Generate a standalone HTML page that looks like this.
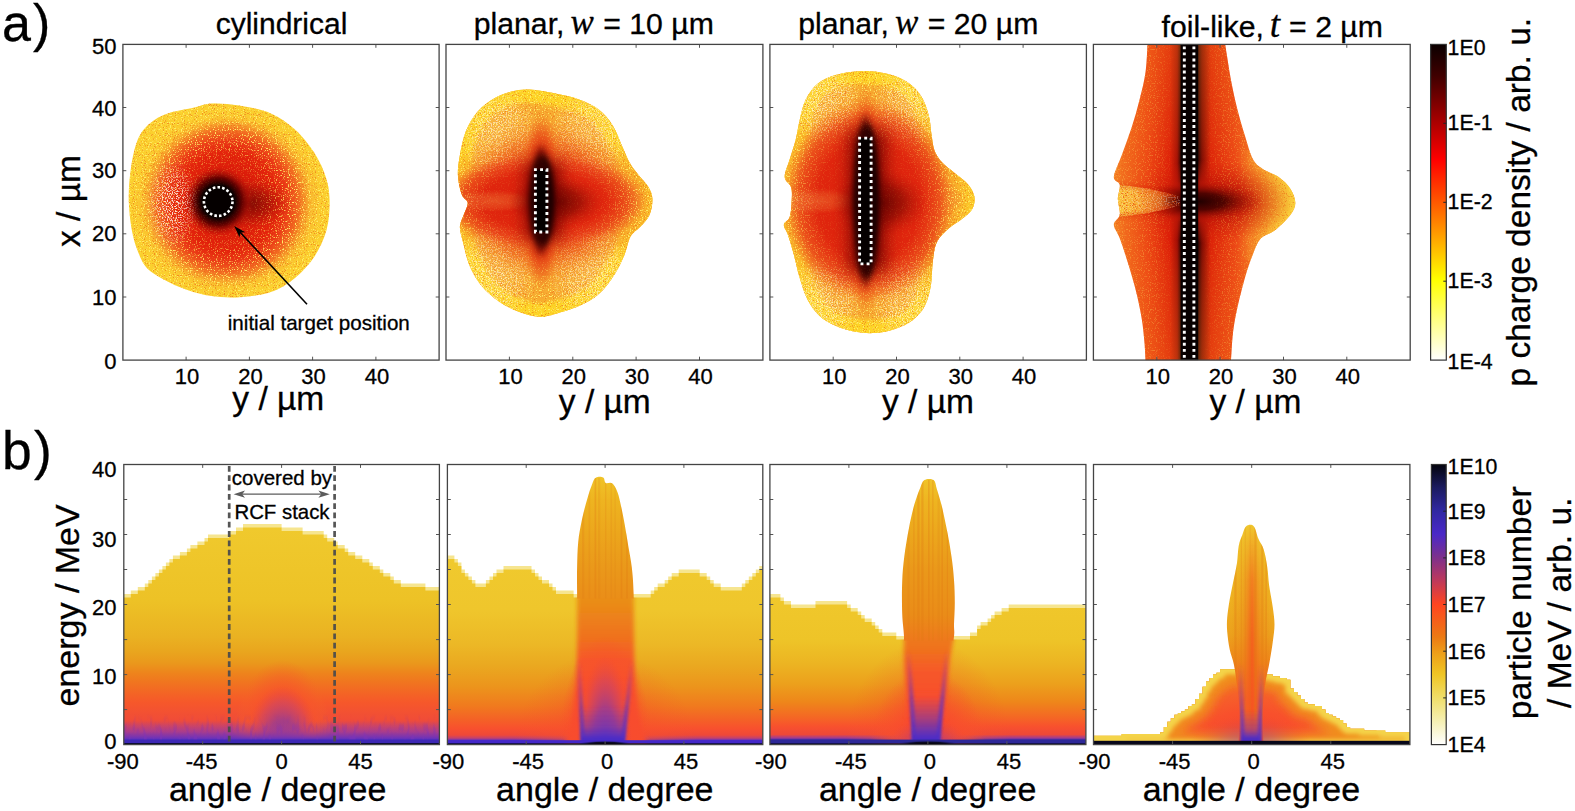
<!DOCTYPE html>
<html lang="en"><head><meta charset="utf-8">
<title>Proton charge density and energy spectra</title>
<style>html,body{margin:0;padding:0;background:#fff;overflow:hidden}svg{display:block}</style></head>
<body>
<svg width="1575" height="811" viewBox="0 0 1575 811">
<defs>
<filter id="nzL" x="0" y="0" width="100%" height="100%" color-interpolation-filters="sRGB"><feTurbulence type="fractalNoise" baseFrequency="0.85" numOctaves="1" seed="3" result="t"/><feColorMatrix in="t" type="matrix" values="0 0 0 0 1  0 0 0 0 0.93  0 0 0 0 0.40  8 0 0 0 -4.5"/></filter>
<filter id="nzW" x="0" y="0" width="100%" height="100%" color-interpolation-filters="sRGB"><feTurbulence type="fractalNoise" baseFrequency="0.8" numOctaves="1" seed="11" result="t"/><feColorMatrix in="t" type="matrix" values="0 0 0 0 1  0 0 0 0 1  0 0 0 0 0.96  0 9 0 0 -4.6"/></filter>
<filter id="nzD" x="0" y="0" width="100%" height="100%" color-interpolation-filters="sRGB"><feTurbulence type="fractalNoise" baseFrequency="0.9" numOctaves="1" seed="7" result="t"/><feColorMatrix in="t" type="matrix" values="0 0 0 0 0.92  0 0 0 0 0.36  0 0 0 0 0.08  0 0 8 0 -4.7"/></filter>
<filter id="bA5" x="-100%" y="-30%" width="300%" height="160%"><feGaussianBlur stdDeviation="3.4"/></filter>
<filter id="bA9" x="-150%" y="-40%" width="400%" height="180%"><feGaussianBlur stdDeviation="8"/></filter>
<filter id="bA2" x="-50%" y="-50%" width="200%" height="200%"><feGaussianBlur stdDeviation="2"/></filter>
<filter id="bA3" x="-150%" y="-20%" width="400%" height="140%"><feGaussianBlur stdDeviation="3"/></filter>
<clipPath id="cA1"><path d="M191.5 108.3C198.7 106.6 203.4 104 211.3 103.5C219.2 103.1 229.2 103.8 239.1 105.5C249 107.2 261.6 109.5 270.9 113.4C280.1 117.4 287.4 122.7 294.7 129.3C302 135.9 309.2 144.9 314.5 153.1C319.8 161.4 323.9 170.7 326.4 178.9C328.9 187.2 329.6 194.2 329.6 202.8C329.6 211.4 328.9 221.6 326.4 230.6C323.9 239.5 319.8 248.4 314.5 256.4C309.2 264.3 302 272.2 294.7 278.2C287.4 284.1 280.1 288.9 270.9 292.1C261.6 295.3 249 296.6 239.1 297.2C229.2 297.9 219.9 297.2 211.3 296.1C202.7 294.9 195.4 292.9 187.5 290.1C179.5 287.3 170.4 283 163.7 279.4C156.9 275.7 151.2 272.8 147 268.3C142.8 263.8 140.8 258.7 138.3 252.4C135.7 246.1 133.5 239.5 131.9 230.6C130.3 221.6 128.9 209.4 128.7 198.8C128.6 188.2 129.6 177 131.1 167C132.6 157.1 134.8 146.5 137.9 139.2C141 132 144.8 127.7 149.8 123.4C154.7 119.1 160.7 116 167.6 113.4C174.6 110.9 184.2 109.9 191.5 108.3Z"/></clipPath>
<radialGradient id="gA1a" gradientUnits="userSpaceOnUse" cx="0" cy="0" r="1" gradientTransform="translate(228.2 202.6) scale(100 96)"><stop offset="0" stop-color="#f48a28"/><stop offset="0.66" stop-color="#f48a28"/><stop offset="0.82" stop-color="#f8b02e" stop-opacity="0.8"/><stop offset="1" stop-color="#fbd02e" stop-opacity="0"/></radialGradient>
<radialGradient id="gA1r" gradientUnits="userSpaceOnUse" cx="0" cy="0" r="1" gradientTransform="translate(227.2 201.6) scale(84 84)"><stop offset="0" stop-color="#d01808"/><stop offset="0.4" stop-color="#dc1c0a"/><stop offset="0.6" stop-color="#e4240c"/><stop offset="0.72" stop-color="#ea3616" stop-opacity="0.95"/><stop offset="0.85" stop-color="#f0561e" stop-opacity="0.7"/><stop offset="1" stop-color="#f48a28" stop-opacity="0"/></radialGradient>
<radialGradient id="gA1b" gradientUnits="userSpaceOnUse" cx="0" cy="0" r="1" gradientTransform="translate(218.2 201.6) scale(35 35)"><stop offset="0" stop-color="#000000"/><stop offset="0.47" stop-color="#0a0000"/><stop offset="0.68" stop-color="#600000" stop-opacity="0.96"/><stop offset="0.86" stop-color="#a80e06" stop-opacity="0.55"/><stop offset="1" stop-color="#c81808" stop-opacity="0"/></radialGradient>
<radialGradient id="gA1c" gradientUnits="userSpaceOnUse" cx="0" cy="0" r="1" gradientTransform="translate(246.2 203.6) scale(46 26)"><stop offset="0" stop-color="#640400" stop-opacity="0.85"/><stop offset="0.5" stop-color="#8c0a04" stop-opacity="0.55"/><stop offset="1" stop-color="#c01808" stop-opacity="0"/></radialGradient>
<mask id="mA1" maskUnits="userSpaceOnUse" x="122.9" y="44.4" width="316.2" height="315.7"><rect x="122.9" y="44.4" width="316.2" height="315.7" fill="#fff"/><circle cx="224.2" cy="201.6" r="70" fill="url(#mgA1)"/></mask>
<radialGradient id="mgA1" gradientUnits="userSpaceOnUse" cx="0" cy="0" r="1" gradientTransform="translate(224.2 201.6) scale(70 70)"><stop offset="0" stop-color="#000"/><stop offset="0.35" stop-color="#000" stop-opacity="0.95"/><stop offset="0.6" stop-color="#000" stop-opacity="0.6"/><stop offset="1" stop-color="#000" stop-opacity="0"/></radialGradient>
<mask id="mA1w" maskUnits="userSpaceOnUse" x="122.9" y="44.4" width="316.2" height="315.7"><ellipse cx="172" cy="204" rx="26" ry="46" fill="url(#mgA1w)"/></mask>
<radialGradient id="mgA1w" gradientUnits="userSpaceOnUse" cx="0" cy="0" r="1" gradientTransform="translate(172 204) scale(26 46)"><stop offset="0" stop-color="#fff" stop-opacity="0.95"/><stop offset="0.5" stop-color="#fff" stop-opacity="0.65"/><stop offset="1" stop-color="#fff" stop-opacity="0"/></radialGradient>
<clipPath id="cA2"><path d="M529.4 89.6C536.6 90 546.9 91.9 555.2 93.6C563.4 95.2 571.7 96.9 579 99.5C586.3 102.2 593.2 105.2 598.8 109.5C604.4 113.8 608.7 119.1 612.7 125.4C616.7 131.6 619.8 140.9 622.6 147.2C625.5 153.5 627.1 158.4 629.8 163.1C632.4 167.7 635.4 171 638.5 175C641.6 178.9 646.1 182.9 648.4 186.9C650.8 190.9 652.2 194.2 652.4 198.8C652.6 203.4 651.6 210 649.6 214.7C647.7 219.3 643.7 222.9 640.5 226.6C637.3 230.2 633.2 231.9 630.6 236.5C627.9 241.1 627.3 248.1 624.6 254.4C622 260.7 619 267.6 614.7 274.2C610.4 280.8 604.8 288.8 598.8 294.1C592.9 299.4 586.3 302.7 579 306C571.7 309.3 561.8 312.1 555.2 313.9C548.5 315.7 545.2 317 539.3 316.7C533.3 316.4 526 314.4 519.4 311.9C512.8 309.5 505.9 306.3 499.6 302C493.3 297.7 486.7 292.1 481.7 286.1C476.8 280.2 472.9 273.6 469.8 266.3C466.7 259 464.7 249.1 463.1 242.5C461.4 235.8 459.7 231.2 459.9 226.6C460 222 462.5 218.6 463.8 214.7C465.2 210.7 468.1 206.1 467.8 202.8C467.5 199.5 463.5 199.5 461.9 194.8C460.2 190.2 458.2 181.6 457.9 175C457.6 168.4 458.6 162.4 459.9 155.1C461.2 147.8 462.9 138.6 465.8 131.3C468.8 124 472.8 117.1 477.7 111.5C482.7 105.8 490 100.9 495.6 97.6C501.2 94.3 505.9 92.9 511.5 91.6C517.1 90.3 522.1 89.3 529.4 89.6Z"/></clipPath>
<radialGradient id="gA2o" gradientUnits="userSpaceOnUse" cx="0" cy="0" r="1" gradientTransform="translate(549 201) scale(120 72)"><stop offset="0" stop-color="#f27c22"/><stop offset="0.55" stop-color="#f38226"/><stop offset="0.8" stop-color="#f5962a" stop-opacity="0.6"/><stop offset="1" stop-color="#f7aa30" stop-opacity="0"/></radialGradient>
<radialGradient id="gA2r" gradientUnits="userSpaceOnUse" cx="0" cy="0" r="1" gradientTransform="translate(543 201) scale(104 48)"><stop offset="0" stop-color="#d81c0c"/><stop offset="0.6" stop-color="#e0260e"/><stop offset="0.82" stop-color="#e83a16" stop-opacity="0.7"/><stop offset="1" stop-color="#f0581e" stop-opacity="0"/></radialGradient>
<radialGradient id="gA2v" gradientUnits="userSpaceOnUse" cx="0" cy="0" r="1" gradientTransform="translate(541.1 200.8) scale(22 92)"><stop offset="0" stop-color="#d41e0c"/><stop offset="0.5" stop-color="#dc280e" stop-opacity="0.95"/><stop offset="0.75" stop-color="#e84818" stop-opacity="0.6"/><stop offset="1" stop-color="#f27c22" stop-opacity="0"/></radialGradient>
<radialGradient id="gA2w" gradientUnits="userSpaceOnUse" cx="0" cy="0" r="1" gradientTransform="translate(494 201) scale(44 11)"><stop offset="0" stop-color="#f8a848" stop-opacity="0.32"/><stop offset="0.6" stop-color="#f69a3c" stop-opacity="0.2"/><stop offset="1" stop-color="#f28a30" stop-opacity="0"/></radialGradient>
<radialGradient id="gA2t" gradientUnits="userSpaceOnUse" cx="0" cy="0" r="1" gradientTransform="translate(556 202) scale(48 27)"><stop offset="0" stop-color="#5a0400" stop-opacity="0.85"/><stop offset="0.5" stop-color="#800802" stop-opacity="0.6"/><stop offset="0.8" stop-color="#a81006" stop-opacity="0.25"/><stop offset="1" stop-color="#c81808" stop-opacity="0"/></radialGradient>
<radialGradient id="gA2l0" gradientUnits="userSpaceOnUse" cx="0" cy="0" r="1" gradientTransform="translate(500 135) scale(34 42)"><stop offset="0" stop-color="#fde4a0" stop-opacity="0.2"/><stop offset="0.55" stop-color="#fbd474" stop-opacity="0.14"/><stop offset="1" stop-color="#f7aa30" stop-opacity="0"/></radialGradient>
<radialGradient id="mgA2w0" gradientUnits="userSpaceOnUse" cx="0" cy="0" r="1" gradientTransform="translate(500 135) scale(40 48)"><stop offset="0" stop-color="#fff" stop-opacity="0.62"/><stop offset="0.6" stop-color="#fff" stop-opacity="0.5"/><stop offset="1" stop-color="#fff" stop-opacity="0"/></radialGradient>
<radialGradient id="gA2l1" gradientUnits="userSpaceOnUse" cx="0" cy="0" r="1" gradientTransform="translate(588 138) scale(34 44)"><stop offset="0" stop-color="#fde4a0" stop-opacity="0.2"/><stop offset="0.55" stop-color="#fbd474" stop-opacity="0.14"/><stop offset="1" stop-color="#f7aa30" stop-opacity="0"/></radialGradient>
<radialGradient id="mgA2w1" gradientUnits="userSpaceOnUse" cx="0" cy="0" r="1" gradientTransform="translate(588 138) scale(40 50)"><stop offset="0" stop-color="#fff" stop-opacity="0.62"/><stop offset="0.6" stop-color="#fff" stop-opacity="0.5"/><stop offset="1" stop-color="#fff" stop-opacity="0"/></radialGradient>
<radialGradient id="gA2l2" gradientUnits="userSpaceOnUse" cx="0" cy="0" r="1" gradientTransform="translate(497 270) scale(36 44)"><stop offset="0" stop-color="#fde4a0" stop-opacity="0.2"/><stop offset="0.55" stop-color="#fbd474" stop-opacity="0.14"/><stop offset="1" stop-color="#f7aa30" stop-opacity="0"/></radialGradient>
<radialGradient id="mgA2w2" gradientUnits="userSpaceOnUse" cx="0" cy="0" r="1" gradientTransform="translate(497 270) scale(42 50)"><stop offset="0" stop-color="#fff" stop-opacity="0.62"/><stop offset="0.6" stop-color="#fff" stop-opacity="0.5"/><stop offset="1" stop-color="#fff" stop-opacity="0"/></radialGradient>
<radialGradient id="gA2l3" gradientUnits="userSpaceOnUse" cx="0" cy="0" r="1" gradientTransform="translate(588 268) scale(36 46)"><stop offset="0" stop-color="#fde4a0" stop-opacity="0.2"/><stop offset="0.55" stop-color="#fbd474" stop-opacity="0.14"/><stop offset="1" stop-color="#f7aa30" stop-opacity="0"/></radialGradient>
<radialGradient id="mgA2w3" gradientUnits="userSpaceOnUse" cx="0" cy="0" r="1" gradientTransform="translate(588 268) scale(42 52)"><stop offset="0" stop-color="#fff" stop-opacity="0.62"/><stop offset="0.6" stop-color="#fff" stop-opacity="0.5"/><stop offset="1" stop-color="#fff" stop-opacity="0"/></radialGradient>
<radialGradient id="mgA2ww" gradientUnits="userSpaceOnUse" cx="0" cy="0" r="1" gradientTransform="translate(494 201) scale(44 11)"><stop offset="0" stop-color="#fff" stop-opacity="0.45"/><stop offset="0.6" stop-color="#fff" stop-opacity="0.3"/><stop offset="1" stop-color="#fff" stop-opacity="0"/></radialGradient>
<mask id="mA2w" maskUnits="userSpaceOnUse" x="446" y="44.4" width="316.9" height="315.7"><ellipse cx="500" cy="135" rx="40" ry="48" fill="url(#mgA2w0)"/><ellipse cx="588" cy="138" rx="40" ry="50" fill="url(#mgA2w1)"/><ellipse cx="497" cy="270" rx="42" ry="50" fill="url(#mgA2w2)"/><ellipse cx="588" cy="268" rx="42" ry="52" fill="url(#mgA2w3)"/><ellipse cx="494" cy="201" rx="44" ry="11" fill="url(#mgA2ww)"/></mask>
<radialGradient id="mgA2B" gradientUnits="userSpaceOnUse" cx="0" cy="0" r="1" gradientTransform="translate(545 201) scale(94 92)"><stop offset="0" stop-color="#000" stop-opacity="0.8"/><stop offset="0.55" stop-color="#000" stop-opacity="0.7"/><stop offset="1" stop-color="#000" stop-opacity="0"/></radialGradient>
<mask id="mA2" maskUnits="userSpaceOnUse" x="446" y="44.4" width="316.9" height="315.7"><rect x="446" y="44.4" width="316.9" height="315.7" fill="#fff"/><ellipse cx="545" cy="201" rx="94" ry="92" fill="url(#mgA2B)"/><ellipse cx="543" cy="201" rx="104" ry="48" fill="url(#mgA2)"/><ellipse cx="541.1" cy="200.8" rx="22" ry="92" fill="url(#mgA2v)"/></mask>
<radialGradient id="mgA2" gradientUnits="userSpaceOnUse" cx="0" cy="0" r="1" gradientTransform="translate(543 201) scale(104 48)"><stop offset="0" stop-color="#000" stop-opacity="0.85"/><stop offset="0.55" stop-color="#000" stop-opacity="0.7"/><stop offset="1" stop-color="#000" stop-opacity="0"/></radialGradient>
<radialGradient id="mgA2v" gradientUnits="userSpaceOnUse" cx="0" cy="0" r="1" gradientTransform="translate(541.1 200.8) scale(22 92)"><stop offset="0" stop-color="#000"/><stop offset="0.55" stop-color="#000" stop-opacity="0.9"/><stop offset="1" stop-color="#000" stop-opacity="0"/></radialGradient>
<radialGradient id="gA2B" gradientUnits="userSpaceOnUse" cx="0" cy="0" r="1" gradientTransform="translate(545 201) scale(86 84)"><stop offset="0" stop-color="#dc220c" stop-opacity="0.95"/><stop offset="0.5" stop-color="#e22a0e" stop-opacity="0.78"/><stop offset="0.75" stop-color="#ea4416" stop-opacity="0.4"/><stop offset="1" stop-color="#f06a1e" stop-opacity="0"/></radialGradient>
<clipPath id="cA3"><path d="M863.3 71C871.9 70.8 879.8 72 887.1 73.7C894.4 75.5 901.3 78 906.9 81.7C912.6 85.3 917.2 90 920.8 95.6C924.5 101.2 927 108.8 928.8 115.4C930.6 122 930.6 129.3 931.6 135.3C932.5 141.2 932.9 146.5 934.7 151.2C936.6 155.8 939.4 159.4 942.7 163.1C946 166.7 950.3 169.4 954.6 173C958.9 176.6 965.2 180.9 968.5 184.9C971.8 188.9 973.8 192.8 974.4 196.8C975.1 200.8 974.4 205.1 972.4 208.7C970.5 212.4 966.5 215.3 962.5 218.6C958.6 222 952.9 224.6 948.6 228.6C944.3 232.5 939.4 236.8 936.7 242.5C934.1 248.1 933.7 255 932.7 262.3C931.8 269.6 932.1 278.9 930.8 286.1C929.4 293.4 927.8 300.4 924.8 306C921.8 311.6 917.9 316 912.9 319.9C907.9 323.7 901.3 326.8 895 329C888.7 331.2 881.8 332.5 875.2 333C868.6 333.4 862 333 855.3 331.8C848.7 330.6 841.4 328.5 835.5 325.8C829.5 323.2 824.2 320.2 819.6 315.9C815 311.6 811 306.3 807.7 300C804.4 293.7 802.1 285.8 799.8 278.2C797.4 270.6 795.8 261.6 793.8 254.4C791.8 247.1 789.5 239.5 787.8 234.5C786.2 229.6 783.5 227.6 783.9 224.6C784.2 221.6 788.5 221 789.8 216.7C791.2 212.4 791.6 203.8 791.8 198.8C792 193.8 792.2 190.5 791 186.9C789.8 183.2 784.9 181.6 784.7 177C784.5 172.3 788 165.4 789.8 159.1C791.7 152.8 794.1 145.9 795.8 139.2C797.4 132.6 798.1 126 799.8 119.4C801.4 112.8 802.7 105.5 805.7 99.5C808.7 93.6 812.7 87.8 817.6 83.7C822.6 79.6 827.9 77.1 835.5 74.9C843.1 72.8 854.7 71.2 863.3 71Z"/></clipPath>
<radialGradient id="gA3o" gradientUnits="userSpaceOnUse" cx="0" cy="0" r="1" gradientTransform="translate(871 201) scale(108 112)"><stop offset="0" stop-color="#f27c22"/><stop offset="0.55" stop-color="#f38226"/><stop offset="0.8" stop-color="#f5962a" stop-opacity="0.6"/><stop offset="1" stop-color="#f7aa30" stop-opacity="0"/></radialGradient>
<radialGradient id="gA3r" gradientUnits="userSpaceOnUse" cx="0" cy="0" r="1" gradientTransform="translate(869 201) scale(86 100)"><stop offset="0" stop-color="#d81c0c"/><stop offset="0.6" stop-color="#e0260e"/><stop offset="0.82" stop-color="#e83a16" stop-opacity="0.7"/><stop offset="1" stop-color="#f0581e" stop-opacity="0"/></radialGradient>
<radialGradient id="gA3v" gradientUnits="userSpaceOnUse" cx="0" cy="0" r="1" gradientTransform="translate(865.4 201) scale(20 118)"><stop offset="0" stop-color="#d41e0c"/><stop offset="0.5" stop-color="#dc280e" stop-opacity="0.95"/><stop offset="0.75" stop-color="#e84818" stop-opacity="0.6"/><stop offset="1" stop-color="#f27c22" stop-opacity="0"/></radialGradient>
<radialGradient id="gA3w" gradientUnits="userSpaceOnUse" cx="0" cy="0" r="1" gradientTransform="translate(818 201) scale(42 13)"><stop offset="0" stop-color="#f8a848" stop-opacity="0.32"/><stop offset="0.6" stop-color="#f69a3c" stop-opacity="0.2"/><stop offset="1" stop-color="#f28a30" stop-opacity="0"/></radialGradient>
<radialGradient id="gA3t" gradientUnits="userSpaceOnUse" cx="0" cy="0" r="1" gradientTransform="translate(880 203) scale(48 34)"><stop offset="0" stop-color="#5a0400" stop-opacity="0.85"/><stop offset="0.5" stop-color="#800802" stop-opacity="0.6"/><stop offset="0.8" stop-color="#a81006" stop-opacity="0.25"/><stop offset="1" stop-color="#c81808" stop-opacity="0"/></radialGradient>
<radialGradient id="gA3l0" gradientUnits="userSpaceOnUse" cx="0" cy="0" r="1" gradientTransform="translate(824 103) scale(32 36)"><stop offset="0" stop-color="#fde4a0" stop-opacity="0.2"/><stop offset="0.55" stop-color="#fbd474" stop-opacity="0.14"/><stop offset="1" stop-color="#f7aa30" stop-opacity="0"/></radialGradient>
<radialGradient id="mgA3w0" gradientUnits="userSpaceOnUse" cx="0" cy="0" r="1" gradientTransform="translate(824 103) scale(38 42)"><stop offset="0" stop-color="#fff" stop-opacity="0.62"/><stop offset="0.6" stop-color="#fff" stop-opacity="0.5"/><stop offset="1" stop-color="#fff" stop-opacity="0"/></radialGradient>
<radialGradient id="gA3l1" gradientUnits="userSpaceOnUse" cx="0" cy="0" r="1" gradientTransform="translate(908 106) scale(30 38)"><stop offset="0" stop-color="#fde4a0" stop-opacity="0.2"/><stop offset="0.55" stop-color="#fbd474" stop-opacity="0.14"/><stop offset="1" stop-color="#f7aa30" stop-opacity="0"/></radialGradient>
<radialGradient id="mgA3w1" gradientUnits="userSpaceOnUse" cx="0" cy="0" r="1" gradientTransform="translate(908 106) scale(36 44)"><stop offset="0" stop-color="#fff" stop-opacity="0.62"/><stop offset="0.6" stop-color="#fff" stop-opacity="0.5"/><stop offset="1" stop-color="#fff" stop-opacity="0"/></radialGradient>
<radialGradient id="gA3l2" gradientUnits="userSpaceOnUse" cx="0" cy="0" r="1" gradientTransform="translate(824 300) scale(34 36)"><stop offset="0" stop-color="#fde4a0" stop-opacity="0.2"/><stop offset="0.55" stop-color="#fbd474" stop-opacity="0.14"/><stop offset="1" stop-color="#f7aa30" stop-opacity="0"/></radialGradient>
<radialGradient id="mgA3w2" gradientUnits="userSpaceOnUse" cx="0" cy="0" r="1" gradientTransform="translate(824 300) scale(40 42)"><stop offset="0" stop-color="#fff" stop-opacity="0.62"/><stop offset="0.6" stop-color="#fff" stop-opacity="0.5"/><stop offset="1" stop-color="#fff" stop-opacity="0"/></radialGradient>
<radialGradient id="gA3l3" gradientUnits="userSpaceOnUse" cx="0" cy="0" r="1" gradientTransform="translate(906 298) scale(32 38)"><stop offset="0" stop-color="#fde4a0" stop-opacity="0.2"/><stop offset="0.55" stop-color="#fbd474" stop-opacity="0.14"/><stop offset="1" stop-color="#f7aa30" stop-opacity="0"/></radialGradient>
<radialGradient id="mgA3w3" gradientUnits="userSpaceOnUse" cx="0" cy="0" r="1" gradientTransform="translate(906 298) scale(38 44)"><stop offset="0" stop-color="#fff" stop-opacity="0.62"/><stop offset="0.6" stop-color="#fff" stop-opacity="0.5"/><stop offset="1" stop-color="#fff" stop-opacity="0"/></radialGradient>
<radialGradient id="mgA3ww" gradientUnits="userSpaceOnUse" cx="0" cy="0" r="1" gradientTransform="translate(818 201) scale(42 13)"><stop offset="0" stop-color="#fff" stop-opacity="0.45"/><stop offset="0.6" stop-color="#fff" stop-opacity="0.3"/><stop offset="1" stop-color="#fff" stop-opacity="0"/></radialGradient>
<mask id="mA3w" maskUnits="userSpaceOnUse" x="769.9" y="44.4" width="316.5" height="315.7"><ellipse cx="824" cy="103" rx="38" ry="42" fill="url(#mgA3w0)"/><ellipse cx="908" cy="106" rx="36" ry="44" fill="url(#mgA3w1)"/><ellipse cx="824" cy="300" rx="40" ry="42" fill="url(#mgA3w2)"/><ellipse cx="906" cy="298" rx="38" ry="44" fill="url(#mgA3w3)"/><ellipse cx="818" cy="201" rx="42" ry="13" fill="url(#mgA3ww)"/></mask>
<radialGradient id="mgA3B" gradientUnits="userSpaceOnUse" cx="0" cy="0" r="1" gradientTransform="translate(868 201) scale(88 116)"><stop offset="0" stop-color="#000" stop-opacity="0.8"/><stop offset="0.55" stop-color="#000" stop-opacity="0.7"/><stop offset="1" stop-color="#000" stop-opacity="0"/></radialGradient>
<mask id="mA3" maskUnits="userSpaceOnUse" x="769.9" y="44.4" width="316.5" height="315.7"><rect x="769.9" y="44.4" width="316.5" height="315.7" fill="#fff"/><ellipse cx="868" cy="201" rx="88" ry="116" fill="url(#mgA3B)"/><ellipse cx="869" cy="201" rx="86" ry="100" fill="url(#mgA3)"/><ellipse cx="865.4" cy="201" rx="20" ry="118" fill="url(#mgA3v)"/></mask>
<radialGradient id="mgA3" gradientUnits="userSpaceOnUse" cx="0" cy="0" r="1" gradientTransform="translate(869 201) scale(86 100)"><stop offset="0" stop-color="#000" stop-opacity="0.85"/><stop offset="0.55" stop-color="#000" stop-opacity="0.7"/><stop offset="1" stop-color="#000" stop-opacity="0"/></radialGradient>
<radialGradient id="mgA3v" gradientUnits="userSpaceOnUse" cx="0" cy="0" r="1" gradientTransform="translate(865.4 201) scale(20 118)"><stop offset="0" stop-color="#000"/><stop offset="0.55" stop-color="#000" stop-opacity="0.9"/><stop offset="1" stop-color="#000" stop-opacity="0"/></radialGradient>
<radialGradient id="gA3B" gradientUnits="userSpaceOnUse" cx="0" cy="0" r="1" gradientTransform="translate(868 201) scale(80 108)"><stop offset="0" stop-color="#dc220c" stop-opacity="0.95"/><stop offset="0.5" stop-color="#e22a0e" stop-opacity="0.78"/><stop offset="0.75" stop-color="#ea4416" stop-opacity="0.4"/><stop offset="1" stop-color="#f06a1e" stop-opacity="0"/></radialGradient>
<clipPath id="cA4"><path d="M1147.6 43.2C1147.2 47.9 1146.9 62.4 1145.6 71.8C1144.3 81.2 1142 90.3 1139.6 99.5C1137.3 108.8 1134.7 118.1 1131.7 127.3C1128.7 136.6 1124.8 146.9 1121.8 155.1C1118.8 163.4 1114.2 172 1113.8 177C1113.5 181.9 1119.1 181.3 1119.8 184.9C1120.5 188.5 1117.8 193.8 1117.8 198.8C1117.8 203.8 1120.5 210.4 1119.8 214.7C1119.1 219 1113.8 220.6 1113.8 224.6C1113.8 228.6 1117.5 232.2 1119.8 238.5C1122.1 244.8 1125.1 253.7 1127.7 262.3C1130.4 270.9 1133.4 280.8 1135.7 290.1C1138 299.4 1140.2 309.3 1141.6 317.9C1143.1 326.5 1143.7 334.4 1144.4 341.7C1145.1 349 1145.4 358.2 1145.6 361.6L1230.9 361.6C1231.3 356.9 1231.9 342.4 1232.9 333.8C1233.9 325.2 1234.9 319.2 1236.9 309.9C1238.9 300.7 1242.2 287.5 1244.8 278.2C1247.5 268.9 1250.1 261 1252.8 254.4C1255.4 247.8 1257.1 242.5 1260.7 238.5C1264.4 234.5 1269.6 234.5 1274.6 230.6C1279.6 226.6 1287.1 219.3 1290.5 214.7C1293.9 210 1295.3 207.1 1295.3 202.8C1295.3 198.5 1293.3 193.2 1290.5 188.9C1287.7 184.6 1283.2 180.3 1278.6 177C1274 173.7 1267 172 1262.7 169C1258.4 166 1255.8 164.7 1252.8 159.1C1249.8 153.5 1247.5 143.9 1244.8 135.3C1242.2 126.7 1239.2 116.8 1236.9 107.5C1234.6 98.2 1232.6 88.3 1230.9 79.7C1229.3 71.1 1228 62 1227 55.9C1226 49.8 1225.3 45.3 1225 43.2Z"/></clipPath>
<linearGradient id="gA4h" gradientUnits="userSpaceOnUse" x1="1110" y1="0" x2="1270" y2="0"><stop offset="0" stop-color="#f68c28"/><stop offset="0.0875" stop-color="#f26c1e"/><stop offset="0.2375" stop-color="#ec4414"/><stop offset="0.375" stop-color="#dc1c08"/><stop offset="0.42" stop-color="#a00c04"/><stop offset="0.445" stop-color="#200000"/><stop offset="0.548" stop-color="#200000"/><stop offset="0.575" stop-color="#7a0802"/><stop offset="0.63" stop-color="#dc2008"/><stop offset="0.7875" stop-color="#ec4616"/><stop offset="0.8875" stop-color="#f26e20"/><stop offset="1" stop-color="#f69028"/></linearGradient>
<linearGradient id="gA4v" gradientUnits="userSpaceOnUse" x1="0" y1="44.4" x2="0" y2="360.1"><stop offset="0" stop-color="#fa8a20" stop-opacity="0.3"/><stop offset="0.3" stop-color="#fa8a20" stop-opacity="0.12"/><stop offset="0.42" stop-color="#fa8a20" stop-opacity="0"/><stop offset="0.6" stop-color="#fa8a20" stop-opacity="0"/><stop offset="0.72" stop-color="#fa8a20" stop-opacity="0.12"/><stop offset="1" stop-color="#fa8a20" stop-opacity="0.3"/></linearGradient>
<radialGradient id="gA4t" gradientUnits="userSpaceOnUse" cx="0" cy="0" r="1" gradientTransform="translate(1198.3 201.5) scale(66 21)"><stop offset="0" stop-color="#200000"/><stop offset="0.4" stop-color="#480200" stop-opacity="0.92"/><stop offset="0.7" stop-color="#900c04" stop-opacity="0.55"/><stop offset="1" stop-color="#d01c08" stop-opacity="0"/></radialGradient>
<radialGradient id="gA4t2" gradientUnits="userSpaceOnUse" cx="0" cy="0" r="1" gradientTransform="translate(1211.3 201.5) scale(84 42)"><stop offset="0" stop-color="#a81006" stop-opacity="0.95"/><stop offset="0.5" stop-color="#c41808" stop-opacity="0.7"/><stop offset="1" stop-color="#dc2c0c" stop-opacity="0"/></radialGradient>
<linearGradient id="gA4r" gradientUnits="userSpaceOnUse" x1="1238" y1="0" x2="1290" y2="0"><stop offset="0" stop-color="#f6962a" stop-opacity="0"/><stop offset="0.4" stop-color="#f8a82e" stop-opacity="0.6"/><stop offset="0.75" stop-color="#fac436" stop-opacity="0.95"/><stop offset="1" stop-color="#fad23a"/></linearGradient>
<clipPath id="cA4w"><path d="M1112 184.5C1135 186 1160 190 1180 197L1180 205C1160 212 1135 215.5 1112 217Z"/></clipPath>
<linearGradient id="gA4w" gradientUnits="userSpaceOnUse" x1="1114" y1="0" x2="1180" y2="0"><stop offset="0" stop-color="#fac63a"/><stop offset="0.35" stop-color="#f8b034" stop-opacity="0.95"/><stop offset="0.7" stop-color="#f48a2c" stop-opacity="0.7"/><stop offset="1" stop-color="#e84818" stop-opacity="0"/></linearGradient>
<mask id="mA4" maskUnits="userSpaceOnUse" x="1093.4" y="44.4" width="316.8" height="315.7"><rect x="1093.4" y="44.4" width="316.8" height="315.7" fill="#fff"/><rect x="1154.3" y="44.4" width="70" height="315.7" fill="url(#mgA4)"/><ellipse cx="1201.3" cy="201.5" rx="62" ry="20" fill="url(#mgA4t)"/></mask>
<radialGradient id="mgA4t" gradientUnits="userSpaceOnUse" cx="0" cy="0" r="1" gradientTransform="translate(1201.3 201.5) scale(62 20)"><stop offset="0" stop-color="#000" stop-opacity="0.9"/><stop offset="0.6" stop-color="#000" stop-opacity="0.7"/><stop offset="1" stop-color="#000" stop-opacity="0"/></radialGradient>
<linearGradient id="mgA4" gradientUnits="userSpaceOnUse" x1="1154.3" y1="0" x2="1224.3" y2="0"><stop offset="0" stop-color="#000" stop-opacity="0"/><stop offset="0.3" stop-color="#000"/><stop offset="0.7" stop-color="#000"/><stop offset="1" stop-color="#000" stop-opacity="0"/></linearGradient>
<clipPath id="cB1"><path d="M123.8 744.6V597.5H127.3V597.5H130.8V594H134.3V594H137.8V590.5H141.3V590.5H144.8V587H148.3V583.5H151.9V580H155.4V576.5H158.9V573H162.4V569.5H165.9V566H169.4V562.5H172.9V559H176.4V559H179.9V555.5H183.4V555.5H186.9V552H190.4V548.5H193.9V548.5H197.4V545H200.9V545H204.5V541.5H208V538H211.5V538H215V538H218.5V538H222V538H225.5V538H229V534.5H232.5V534.5H236V531H239.5V531H243V527.5H246.5V527.5H250V527.5H253.5V527.5H257.1V527.5H260.6V527.5H264.1V527.5H267.6V527.5H271.1V527.5H274.6V527.5H278.1V527.5H281.6V531H285.1V531H288.6V531H292.1V531H295.6V531H299.1V531H302.6V534.5H306.1V534.5H309.7V534.5H313.2V534.5H316.7V534.5H320.2V534.5H323.7V538H327.2V541.5H330.7V541.5H334.2V545H337.7V548.5H341.2V548.5H344.7V552H348.2V555.5H351.7V555.5H355.2V559H358.7V559H362.3V562.5H365.8V562.5H369.3V566H372.8V569.5H376.3V569.5H379.8V573H383.3V576.5H386.8V576.5H390.3V580H393.8V583.5H397.3V583.5H400.8V587H404.3V587H407.8V587H411.3V587H414.9V587H418.4V587H421.9V587H425.4V590.5H428.9V590.5H432.4V590.5H435.9V590.5H439.4V744.6Z"/></clipPath>
<linearGradient id="gB1" gradientUnits="userSpaceOnUse" x1="0" y1="464.5" x2="0" y2="744.6"><stop offset="0.198" stop-color="#f0ca2e"/><stop offset="0.484" stop-color="#edc226"/><stop offset="0.612" stop-color="#eab222"/><stop offset="0.666" stop-color="#e9a61e"/><stop offset="0.709" stop-color="#ea981c"/><stop offset="0.748" stop-color="#ee821c"/><stop offset="0.798" stop-color="#f26c22"/><stop offset="0.848" stop-color="#f6582a"/><stop offset="0.912" stop-color="#f04c38"/><stop offset="0.955" stop-color="#b03e88"/><stop offset="0.978" stop-color="#6432bc"/><stop offset="0.987" stop-color="#3c28b4"/><stop offset="0.994" stop-color="#2a2090"/><stop offset="1.000" stop-color="#0c0c30"/></linearGradient>
<radialGradient id="gB1r" gradientUnits="userSpaceOnUse" cx="0" cy="0" r="1" gradientTransform="translate(282.6 746) scale(50 86)"><stop offset="0" stop-color="#f8482e"/><stop offset="0.6" stop-color="#f8502c" stop-opacity="0.85"/><stop offset="0.82" stop-color="#f65a2a" stop-opacity="0.4"/><stop offset="1" stop-color="#f46a24" stop-opacity="0"/></radialGradient>
<radialGradient id="gB1p" gradientUnits="userSpaceOnUse" cx="0" cy="0" r="1" gradientTransform="translate(282.6 748) scale(38 62)"><stop offset="0" stop-color="#7036b4" stop-opacity="0.95"/><stop offset="0.45" stop-color="#8c3aa0" stop-opacity="0.75"/><stop offset="0.75" stop-color="#b84080" stop-opacity="0.4"/><stop offset="1" stop-color="#e04848" stop-opacity="0"/></radialGradient>
<filter id="nzP" x="0" y="0" width="100%" height="100%" color-interpolation-filters="sRGB"><feTurbulence type="fractalNoise" baseFrequency="0.3 0.09" numOctaves="1" seed="5" result="t"/><feColorMatrix in="t" type="matrix" values="0 0 0 0 0.5  0 0 0 0 0.2  0 0 0 0 0.72  7 0 0 0 -3.7"/></filter>
<linearGradient id="gB1bot" gradientUnits="userSpaceOnUse" x1="0" y1="464.5" x2="0" y2="744.6"><stop offset="0.919" stop-color="#c04078" stop-opacity="0"/><stop offset="0.951" stop-color="#a83c8c" stop-opacity="0.5"/><stop offset="0.973" stop-color="#7a34b0" stop-opacity="0.85"/><stop offset="0.982" stop-color="#5a30c0"/><stop offset="1.000" stop-color="#3c28b4"/></linearGradient>
<linearGradient id="mgB1" gradientUnits="userSpaceOnUse" x1="0" y1="464.5" x2="0" y2="744.6"><stop offset="0.891" stop-color="#fff" stop-opacity="0"/><stop offset="0.941" stop-color="#fff" stop-opacity="0.25"/><stop offset="0.976" stop-color="#fff" stop-opacity="0.5"/><stop offset="0.998" stop-color="#fff" stop-opacity="0.2"/></linearGradient>
<mask id="mB1" maskUnits="userSpaceOnUse" x="123.8" y="464.5" width="315.6" height="280.1"><rect x="123.8" y="464.5" width="315.6" height="280.1" fill="url(#mgB1)"/></mask>
<filter id="bl3" x="-30%" y="-10%" width="160%" height="120%"><feGaussianBlur stdDeviation="2 0.6"/></filter>
<filter id="bl5" x="-5%" y="-30%" width="110%" height="160%"><feGaussianBlur stdDeviation="4"/></filter>
<filter id="bl4" x="-5%" y="-20%" width="110%" height="140%"><feGaussianBlur stdDeviation="2"/></filter>
<filter id="bl1" x="-10%" y="-10%" width="120%" height="120%"><feGaussianBlur stdDeviation="1.5 0.8"/></filter>
<radialGradient id="gB2o" gradientUnits="userSpaceOnUse" cx="0" cy="0" r="1" gradientTransform="translate(605.1 752) scale(92 100)"><stop offset="0" stop-color="#f8502c" stop-opacity="0.8"/><stop offset="0.45" stop-color="#f8502c" stop-opacity="0.5"/><stop offset="0.75" stop-color="#f6542a" stop-opacity="0.2"/><stop offset="1" stop-color="#f45a28" stop-opacity="0"/></radialGradient>
<radialGradient id="gB2r" gradientUnits="userSpaceOnUse" cx="0" cy="0" r="1" gradientTransform="translate(605.1 748) scale(46 112)"><stop offset="0" stop-color="#f8482e"/><stop offset="0.55" stop-color="#f84c2e" stop-opacity="0.85"/><stop offset="0.8" stop-color="#f8502c" stop-opacity="0.4"/><stop offset="1" stop-color="#f8502c" stop-opacity="0"/></radialGradient>
<radialGradient id="gB2h" gradientUnits="userSpaceOnUse" cx="0" cy="0" r="1" gradientTransform="translate(605.1 748) scale(27 92)"><stop offset="0" stop-color="#6a34b8" stop-opacity="0.95"/><stop offset="0.45" stop-color="#8a38a4" stop-opacity="0.7"/><stop offset="0.75" stop-color="#b84080" stop-opacity="0.35"/><stop offset="1" stop-color="#e04848" stop-opacity="0"/></radialGradient>
<radialGradient id="gB2k" gradientUnits="userSpaceOnUse" cx="0" cy="0" r="1" gradientTransform="translate(605.1 744.2) scale(28 3.4)"><stop offset="0" stop-color="#000"/><stop offset="0.6" stop-color="#08081c" stop-opacity="0.9"/><stop offset="1" stop-color="#202070" stop-opacity="0"/></radialGradient>
<linearGradient id="gB2leg" gradientUnits="userSpaceOnUse" x1="0" y1="464.5" x2="0" y2="744.6"><stop offset="0.698" stop-color="#b03c88" stop-opacity="0"/><stop offset="0.777" stop-color="#9a3a98" stop-opacity="0.35"/><stop offset="0.869" stop-color="#6a34b8" stop-opacity="0.7"/><stop offset="0.998" stop-color="#4a2cc8" stop-opacity="0.95"/></linearGradient>
<linearGradient id="gB2foot" gradientUnits="userSpaceOnUse" x1="0" y1="464.5" x2="0" y2="744.6"><stop offset="0.862" stop-color="#7a36b0" stop-opacity="0"/><stop offset="0.934" stop-color="#6a34b8" stop-opacity="0.5"/><stop offset="0.976" stop-color="#4a2cc8" stop-opacity="0.95"/><stop offset="0.998" stop-color="#4428c8"/></linearGradient>
<clipPath id="cB2"><path d="M447.4 744.6V559H450.9V559H454.4V562.5H457.9V566H461.4V573H464.9V576.5H468.4V580H471.9V583.5H475.4V587H478.9V587H482.4V587H485.9V583.5H489.5V580H493V576.5H496.5V573H500V573H503.5V569.5H507V569.5H510.5V569.5H514V569.5H517.5V569.5H521V569.5H524.5V569.5H528V569.5H531.5V573H535V576.5H538.5V580H542V583.5H545.5V583.5H549V587H552.5V590.5H556V594H559.5V594H563V594H566.6V594H570.1V594H573.6V597.5H577.1V597.5H580.6V597.5H584.1V597.5H587.6V597.5H591.1V597.5H594.6V597.5H598.1V597.5H601.6V597.5H605.1V597.5H608.6V597.5H612.1V597.5H615.6V597.5H619.1V597.5H622.6V597.5H626.1V597.5H629.6V597.5H633.1V597.5H636.6V597.5H640.1V597.5H643.6V597.5H647.2V597.5H650.7V594H654.2V590.5H657.7V587H661.2V587H664.7V583.5H668.2V580H671.7V576.5H675.2V576.5H678.7V573H682.2V573H685.7V573H689.2V573H692.7V573H696.2V573H699.7V576.5H703.2V576.5H706.7V580H710.2V583.5H713.7V587H717.2V587H720.7V590.5H724.3V590.5H727.8V590.5H731.3V590.5H734.8V590.5H738.3V590.5H741.8V587H745.3V583.5H748.8V580H752.3V576.5H755.8V573H759.3V569.5H762.8V744.6Z"/></clipPath>
<linearGradient id="gB2" gradientUnits="userSpaceOnUse" x1="0" y1="464.5" x2="0" y2="744.6"><stop offset="0.305" stop-color="#f0ca2e"/><stop offset="0.519" stop-color="#efc62c"/><stop offset="0.641" stop-color="#ecb826"/><stop offset="0.719" stop-color="#eaa820"/><stop offset="0.794" stop-color="#ec941c"/><stop offset="0.862" stop-color="#f07a1e"/><stop offset="0.909" stop-color="#f46226"/><stop offset="0.943" stop-color="#f8502e"/><stop offset="0.966" stop-color="#ee4838"/><stop offset="0.977" stop-color="#c04070"/><stop offset="0.985" stop-color="#5a30c0"/><stop offset="0.991" stop-color="#4428c8"/><stop offset="0.996" stop-color="#3020a0"/><stop offset="1.000" stop-color="#0c0c30"/></linearGradient>
<clipPath id="cB2c"><path d="M565.1 746C566.3 741 570.3 727 572.1 716C573.9 705 575.3 692.7 576.1 680C576.9 667.3 576.9 654.5 577.1 640C577.3 625.5 577.1 605.2 577.1 593.1C577.1 581 576.9 575.8 577.1 567.3C577.3 558.9 577.4 550 578.2 542.3C578.9 534.5 580.3 528 581.7 520.8C583.2 513.7 585.3 505.6 587.1 499.4C588.9 493.1 591 486.9 592.5 483.3C594 479.6 594.3 478.5 596.1 477.5C597.8 476.6 601.6 476.6 603.2 477.5C604.8 478.4 604.2 481.9 605.7 482.9C607.2 483.9 610.2 481.7 612.2 483.3C614.1 484.8 616 488.3 617.5 492.2C619 496.1 619.9 501.1 621.1 506.5C622.3 511.9 623.5 517.8 624.7 524.4C625.9 531 627.1 538.7 628.3 545.9C629.5 553 630.9 559.5 631.8 567.3C632.7 575.2 633.2 581 633.6 593.1C634 605.2 633.9 625.5 634.1 640C634.3 654.5 634.3 667.3 635.1 680C635.9 692.7 637.1 705 639.1 716C641.1 727 645.8 741 647.1 746Z"/></clipPath>
<linearGradient id="gB2c" gradientUnits="userSpaceOnUse" x1="0" y1="464.5" x2="0" y2="744.6"><stop offset="0.041" stop-color="#f0c428"/><stop offset="0.127" stop-color="#eeb420"/><stop offset="0.248" stop-color="#eca61c"/><stop offset="0.373" stop-color="#ea981a"/><stop offset="0.494" stop-color="#ea8c18"/><stop offset="0.623" stop-color="#f0701e"/><stop offset="0.698" stop-color="#f6582a"/><stop offset="0.805" stop-color="#f84c2e"/><stop offset="1.000" stop-color="#f8482e"/></linearGradient>
<clipPath id="cB2u"><rect x="447.4" y="464.5" width="315.4" height="134"/></clipPath>
<radialGradient id="gB3o" gradientUnits="userSpaceOnUse" cx="0" cy="0" r="1" gradientTransform="translate(927.9 752) scale(84 112)"><stop offset="0" stop-color="#f8502c" stop-opacity="0.8"/><stop offset="0.45" stop-color="#f8502c" stop-opacity="0.5"/><stop offset="0.75" stop-color="#f6542a" stop-opacity="0.2"/><stop offset="1" stop-color="#f45a28" stop-opacity="0"/></radialGradient>
<radialGradient id="gB3r" gradientUnits="userSpaceOnUse" cx="0" cy="0" r="1" gradientTransform="translate(927.9 750) scale(58 80)"><stop offset="0" stop-color="#f8482e" stop-opacity="0.95"/><stop offset="0.55" stop-color="#f84c2e" stop-opacity="0.7"/><stop offset="0.8" stop-color="#f8502c" stop-opacity="0.3"/><stop offset="1" stop-color="#f8502c" stop-opacity="0"/></radialGradient>
<radialGradient id="gB3h" gradientUnits="userSpaceOnUse" cx="0" cy="0" r="1" gradientTransform="translate(927.9 748) scale(42 30)"><stop offset="0" stop-color="#7a36b0" stop-opacity="0.85"/><stop offset="0.5" stop-color="#a83c8c" stop-opacity="0.5"/><stop offset="1" stop-color="#e04848" stop-opacity="0"/></radialGradient>
<radialGradient id="gB3k" gradientUnits="userSpaceOnUse" cx="0" cy="0" r="1" gradientTransform="translate(927.9 744.2) scale(32 3.6)"><stop offset="0" stop-color="#000"/><stop offset="0.6" stop-color="#08081c" stop-opacity="0.9"/><stop offset="1" stop-color="#202070" stop-opacity="0"/></radialGradient>
<linearGradient id="gB3leg" gradientUnits="userSpaceOnUse" x1="0" y1="464.5" x2="0" y2="744.6"><stop offset="0.662" stop-color="#b03c88" stop-opacity="0"/><stop offset="0.741" stop-color="#9a3a98" stop-opacity="0.35"/><stop offset="0.834" stop-color="#6a34b8" stop-opacity="0.7"/><stop offset="0.998" stop-color="#4a2cc8" stop-opacity="0.95"/></linearGradient>
<linearGradient id="gB3foot" gradientUnits="userSpaceOnUse" x1="0" y1="464.5" x2="0" y2="744.6"><stop offset="0.826" stop-color="#7a36b0" stop-opacity="0"/><stop offset="0.898" stop-color="#6a34b8" stop-opacity="0.5"/><stop offset="0.976" stop-color="#4a2cc8" stop-opacity="0.95"/><stop offset="0.998" stop-color="#4428c8"/></linearGradient>
<clipPath id="cB3"><path d="M769.9 744.6V597.5H773.4V597.5H776.9V597.5H780.4V601H783.9V604.5H787.5V604.5H791V608.1H794.5V608.1H798V608.1H801.5V608.1H805V608.1H808.5V608.1H812V608.1H815.5V604.5H819.1V604.5H822.6V604.5H826.1V604.5H829.6V604.5H833.1V604.5H836.6V604.5H840.1V604.5H843.6V604.5H847.1V608.1H850.7V611.6H854.2V611.6H857.7V615.1H861.2V618.6H864.7V622.1H868.2V622.1H871.7V625.6H875.2V629.1H878.7V632.6H882.3V636.1H885.8V636.1H889.3V636.1H892.8V636.1H896.3V639.6H899.8V639.6H903.3V639.6H906.8V639.6H910.3V639.6H913.9V639.6H917.4V639.6H920.9V639.6H924.4V639.6H927.9V639.6H931.4V639.6H934.9V639.6H938.4V639.6H941.9V639.6H945.5V639.6H949V639.6H952.5V639.6H956V639.6H959.5V639.6H963V639.6H966.5V639.6H970V636.1H973.5V636.1H977.1V629.1H980.6V625.6H984.1V625.6H987.6V622.1H991.1V618.6H994.6V615.1H998.1V615.1H1001.6V611.6H1005.1V611.6H1008.7V608.1H1012.2V608.1H1015.7V608.1H1019.2V608.1H1022.7V608.1H1026.2V608.1H1029.7V608.1H1033.2V608.1H1036.7V608.1H1040.3V608.1H1043.8V608.1H1047.3V608.1H1050.8V608.1H1054.3V608.1H1057.8V608.1H1061.3V608.1H1064.8V608.1H1068.3V608.1H1071.9V608.1H1075.4V608.1H1078.9V608.1H1082.4V608.1H1085.9V744.6Z"/></clipPath>
<linearGradient id="gB3" gradientUnits="userSpaceOnUse" x1="0" y1="464.5" x2="0" y2="744.6"><stop offset="0.466" stop-color="#f0c82c"/><stop offset="0.627" stop-color="#eec428"/><stop offset="0.712" stop-color="#ecb422"/><stop offset="0.784" stop-color="#eca01c"/><stop offset="0.848" stop-color="#ee861a"/><stop offset="0.901" stop-color="#f46824"/><stop offset="0.937" stop-color="#f8502e"/><stop offset="0.964" stop-color="#ee4838"/><stop offset="0.976" stop-color="#a03c90"/><stop offset="0.984" stop-color="#3a2ab0"/><stop offset="0.995" stop-color="#2c2498"/><stop offset="1.000" stop-color="#0c0c30"/></linearGradient>
<clipPath id="cB3c"><path d="M901.9 746C902.7 741 906.2 725.3 906.9 716C907.6 706.7 906.4 699.3 905.9 690C905.4 680.7 904.2 668.9 903.9 660C903.6 651.1 904.2 644.1 904 636.4C903.7 628.7 902.5 623 902.2 613.8C901.9 604.7 901.8 591.2 902.2 581.6C902.5 572.1 903.2 565.5 904.3 556.6C905.4 547.7 907.3 536.6 909 528C910.6 519.3 912.5 511.2 914.3 504.7C916.1 498.3 918 493.5 919.7 489.3C921.4 485.2 922 481.6 924.4 480C926.7 478.5 931.6 478.5 933.7 480C935.7 481.6 935.5 484.9 936.9 489.3C938.2 493.8 940.2 499.5 941.9 506.5C943.6 513.5 945.6 523.2 947.2 531.6C948.9 539.9 950.4 548.6 951.5 556.6C952.7 564.7 953.5 572.1 954 579.9C954.6 587.6 954.8 595.7 954.8 603.1C954.8 610.6 954.2 619 954 624.6C953.9 630.1 954.7 630.5 954 636.4C953.4 642.3 951.1 651.1 949.9 660C948.7 668.9 947.7 680.7 946.9 690C946.1 699.3 944.4 706.7 944.9 716C945.4 725.3 949.1 741 949.9 746Z"/></clipPath>
<linearGradient id="gB3c" gradientUnits="userSpaceOnUse" x1="0" y1="464.5" x2="0" y2="744.6"><stop offset="0.048" stop-color="#f0c428"/><stop offset="0.134" stop-color="#eeb420"/><stop offset="0.255" stop-color="#eca61c"/><stop offset="0.380" stop-color="#ea981a"/><stop offset="0.537" stop-color="#ea8c18"/><stop offset="0.666" stop-color="#f0701e"/><stop offset="0.741" stop-color="#f6582a"/><stop offset="0.848" stop-color="#f84c2e"/><stop offset="1.000" stop-color="#f8482e"/></linearGradient>
<clipPath id="cB3u"><rect x="769.9" y="464.5" width="316" height="176"/></clipPath>
<clipPath id="cB4"><path d="M1093.5 744.6V735.8H1097V735.8H1100.5V735.8H1104V735.8H1107.6V735.8H1111.1V735.8H1114.6V735.8H1118.1V735.8H1121.6V734.1H1125.1V734.1H1128.7V734.1H1132.2V734.1H1135.7V734.1H1139.2V734.1H1142.7V734.1H1146.2V734.1H1149.7V734.1H1153.3V734.1H1156.8V734.1H1160.3V732.3H1163.8V727.1H1167.3V721.8H1170.8V718.3H1174.4V714.8H1177.9V713.1H1181.4V711.3H1184.9V709.6H1188.4V706.1H1191.9V704.3H1195.5V699.1H1199V693.8H1202.5V686.8H1206V681.6H1209.5V678.1H1213V674.6H1216.5V672.8H1220.1V669.3H1223.6V669.3H1227.1V669.3H1230.6V669.3H1234.1V669.3H1237.6V669.3H1241.2V669.3H1244.7V671.1H1248.2V671.1H1251.7V672.8H1255.2V672.8H1258.7V672.8H1262.2V674.6H1265.8V674.6H1269.3V674.6H1272.8V676.3H1276.3V676.3H1279.8V678.1H1283.3V678.1H1286.9V679.8H1290.4V688.6H1293.9V692.1H1297.4V695.6H1300.9V699.1H1304.4V702.6H1307.9V704.3H1311.5V704.3H1315V706.1H1318.5V706.1H1322V709.6H1325.5V713.1H1329V714.8H1332.6V716.6H1336.1V718.3H1339.6V720.1H1343.1V723.6H1346.6V727.1H1350.1V728.8H1353.7V728.8H1357.2V728.8H1360.7V728.8H1364.2V730.6H1367.7V730.6H1371.2V730.6H1374.7V730.6H1378.3V730.6H1381.8V730.6H1385.3V732.3H1388.8V732.3H1392.3V732.3H1395.8V732.3H1399.4V732.3H1402.9V732.3H1406.4V732.3H1409.9V744.6Z"/></clipPath>
<radialGradient id="gB4m" gradientUnits="userSpaceOnUse" cx="0" cy="0" r="1" gradientTransform="translate(1251 756) scale(130 100)"><stop offset="0" stop-color="#f4442e"/><stop offset="0.45" stop-color="#f8502c"/><stop offset="0.62" stop-color="#f6602a"/><stop offset="0.78" stop-color="#f27a20"/><stop offset="0.9" stop-color="#ee9a1e"/><stop offset="1" stop-color="#eeb426"/></radialGradient>
<linearGradient id="gB4s" gradientUnits="userSpaceOnUse" x1="0" y1="464.5" x2="0" y2="744.6"><stop offset="0.948" stop-color="#f8f0a0"/><stop offset="0.973" stop-color="#f4dc50"/><stop offset="0.982" stop-color="#f0b820"/><stop offset="0.987" stop-color="#ee9a1c"/><stop offset="1.000" stop-color="#e88018"/></linearGradient>
<clipPath id="cB4c"><path d="M1238.5 746C1238.7 740.2 1239.8 721.2 1239.5 711C1239.2 700.8 1237.9 692.7 1237 685C1236.1 677.3 1235.2 670.9 1234 665C1232.8 659.1 1230.9 655.2 1229.7 649.6C1228.6 644.1 1227.7 637.1 1227.2 631.7C1226.8 626.4 1226.8 622.8 1227.2 617.4C1227.7 612.1 1228.7 605.5 1229.7 599.5C1230.8 593.6 1232.1 587.6 1233.3 581.6C1234.5 575.7 1236 569.7 1236.9 563.8C1237.8 557.8 1237.8 550.6 1238.7 545.9C1239.6 541.1 1241 538.4 1242.3 535.1C1243.5 531.9 1244.3 527.7 1246.2 526.2C1248.1 524.7 1251.7 524.1 1253.7 526.2C1255.7 528.3 1256.7 534.8 1258.4 538.7C1260 542.6 1262.2 544.7 1263.7 549.4C1265.2 554.2 1266.4 561.4 1267.3 567.3C1268.2 573.3 1268.2 578.7 1269.1 585.2C1270 591.8 1271.8 600.1 1272.7 606.7C1273.6 613.2 1274.5 618.6 1274.5 624.6C1274.5 630.5 1273.6 635.7 1272.7 642.5C1271.8 649.2 1270.3 657.9 1269 665C1267.7 672.1 1266 677.3 1265 685C1264 692.7 1263 700.8 1262.7 711C1262.5 721.2 1263.4 740.2 1263.5 746Z"/></clipPath>
<linearGradient id="gB4c" gradientUnits="userSpaceOnUse" x1="0" y1="464.5" x2="0" y2="744.6"><stop offset="0.212" stop-color="#f0c82e"/><stop offset="0.341" stop-color="#efbe26"/><stop offset="0.484" stop-color="#eeb020"/><stop offset="0.609" stop-color="#eca01c"/><stop offset="0.698" stop-color="#ee881a"/><stop offset="0.769" stop-color="#f26c22"/><stop offset="0.841" stop-color="#f8522e"/><stop offset="0.998" stop-color="#f8482e"/></linearGradient>
<linearGradient id="gB4x" gradientUnits="userSpaceOnUse" x1="1232" y1="0" x2="1272" y2="0"><stop offset="0" stop-color="#ee7a1a" stop-opacity="0"/><stop offset="0.26" stop-color="#ee7a1a" stop-opacity="0.3"/><stop offset="0.5" stop-color="#f4561e" stop-opacity="0.85"/><stop offset="0.74" stop-color="#ee7a1a" stop-opacity="0.3"/><stop offset="1" stop-color="#ee7a1a" stop-opacity="0"/></linearGradient>
<linearGradient id="mgB4x" gradientUnits="userSpaceOnUse" x1="0" y1="464.5" x2="0" y2="744.6"><stop offset="0.212" stop-color="#fff" stop-opacity="0"/><stop offset="0.412" stop-color="#fff" stop-opacity="0.7"/><stop offset="0.627" stop-color="#fff"/><stop offset="0.998" stop-color="#fff"/></linearGradient>
<mask id="mB4x" maskUnits="userSpaceOnUse" x="1093.5" y="464.5" width="316.4" height="280.1"><rect x="1093.5" y="464.5" width="316.4" height="280.1" fill="url(#mgB4x)"/></mask>
<radialGradient id="gB4h" gradientUnits="userSpaceOnUse" cx="0" cy="0" r="1" gradientTransform="translate(1251 748) scale(62 34)"><stop offset="0" stop-color="#7a36b0" stop-opacity="0.7"/><stop offset="0.5" stop-color="#b04084" stop-opacity="0.4"/><stop offset="1" stop-color="#f4442e" stop-opacity="0"/></radialGradient>
<clipPath id="cB4all"><rect x="1093.5" y="464.5" width="316.4" height="280.1"/></clipPath>
<linearGradient id="gB4leg" gradientUnits="userSpaceOnUse" x1="0" y1="464.5" x2="0" y2="744.6"><stop offset="0.712" stop-color="#b03c88" stop-opacity="0"/><stop offset="0.791" stop-color="#9a3a98" stop-opacity="0.35"/><stop offset="0.884" stop-color="#6a34b8" stop-opacity="0.7"/><stop offset="0.998" stop-color="#4a2cc8" stop-opacity="0.95"/></linearGradient>
<linearGradient id="gB4foot" gradientUnits="userSpaceOnUse" x1="0" y1="464.5" x2="0" y2="744.6"><stop offset="0.876" stop-color="#7a36b0" stop-opacity="0"/><stop offset="0.948" stop-color="#6a34b8" stop-opacity="0.5"/><stop offset="0.976" stop-color="#4a2cc8" stop-opacity="0.95"/><stop offset="0.998" stop-color="#4428c8"/></linearGradient>
<linearGradient id="cbA" x1="0" y1="0" x2="0" y2="1"><stop offset="0" stop-color="#0b0000"/><stop offset="0.10" stop-color="#400000"/><stop offset="0.365" stop-color="#ff0000"/><stop offset="0.56" stop-color="#ff8000"/><stop offset="0.746" stop-color="#ffff00"/><stop offset="0.87" stop-color="#ffff80"/><stop offset="1" stop-color="#ffffff"/></linearGradient>
<linearGradient id="cbB" x1="0" y1="0" x2="0" y2="1"><stop offset="0.0" stop-color="#04040c"/><stop offset="0.083" stop-color="#1c1c60"/><stop offset="0.163" stop-color="#3028a0"/><stop offset="0.248" stop-color="#4a28c8"/><stop offset="0.327" stop-color="#7a308f"/><stop offset="0.407" stop-color="#b83860"/><stop offset="0.5" stop-color="#ff4520"/><stop offset="0.616" stop-color="#ec7a14"/><stop offset="0.676" stop-color="#eda01a"/><stop offset="0.748" stop-color="#efc524"/><stop offset="0.834" stop-color="#f0de6a"/><stop offset="0.913" stop-color="#f5efb0"/><stop offset="1.0" stop-color="#ffffff"/></linearGradient>
</defs>
<rect width="1575" height="811" fill="#fff"/>
<g clip-path="url(#cA1)"><rect x="122.9" y="44.4" width="316.2" height="315.7" fill="#fbd02e"/><ellipse cx="228.2" cy="202.6" rx="100" ry="96" fill="url(#gA1a)"/><ellipse cx="227.2" cy="201.6" rx="84" ry="84" fill="url(#gA1r)"/><ellipse cx="246.2" cy="203.6" rx="46" ry="26" fill="url(#gA1c)"/><ellipse cx="218.2" cy="201.6" rx="35" ry="35" fill="url(#gA1b)"/><g mask="url(#mA1)"><rect x="122.9" y="44.4" width="316.2" height="315.7" filter="url(#nzL)"/></g><g mask="url(#mA1)" opacity="0.55"><rect x="122.9" y="44.4" width="316.2" height="315.7" filter="url(#nzD)"/></g><g mask="url(#mA1w)"><rect x="122.9" y="44.4" width="316.2" height="315.7" filter="url(#nzW)"/></g></g>
<circle cx="218.2" cy="201.6" r="13.6" fill="#050000"/>
<circle cx="218.2" cy="201.6" r="14.3" fill="none" stroke="#fff" stroke-width="2.6" stroke-dasharray="2.6 2.129"/>
<path d="M307 304.2L238.5 230.5" stroke="#000" stroke-width="1.6" fill="none"/>
<path d="M234.2 225.9L245.3 232.3L240.2 232.4L239.6 237.5Z" fill="#000"/>
<g clip-path="url(#cA2)"><rect x="446" y="44.4" width="316.9" height="315.7" fill="#f7aa30"/><path d="M529.4 89.6C536.6 90 546.9 91.9 555.2 93.6C563.4 95.2 571.7 96.9 579 99.5C586.3 102.2 593.2 105.2 598.8 109.5C604.4 113.8 608.7 119.1 612.7 125.4C616.7 131.6 619.8 140.9 622.6 147.2C625.5 153.5 627.1 158.4 629.8 163.1C632.4 167.7 635.4 171 638.5 175C641.6 178.9 646.1 182.9 648.4 186.9C650.8 190.9 652.2 194.2 652.4 198.8C652.6 203.4 651.6 210 649.6 214.7C647.7 219.3 643.7 222.9 640.5 226.6C637.3 230.2 633.2 231.9 630.6 236.5C627.9 241.1 627.3 248.1 624.6 254.4C622 260.7 619 267.6 614.7 274.2C610.4 280.8 604.8 288.8 598.8 294.1C592.9 299.4 586.3 302.7 579 306C571.7 309.3 561.8 312.1 555.2 313.9C548.5 315.7 545.2 317 539.3 316.7C533.3 316.4 526 314.4 519.4 311.9C512.8 309.5 505.9 306.3 499.6 302C493.3 297.7 486.7 292.1 481.7 286.1C476.8 280.2 472.9 273.6 469.8 266.3C466.7 259 464.7 249.1 463.1 242.5C461.4 235.8 459.7 231.2 459.9 226.6C460 222 462.5 218.6 463.8 214.7C465.2 210.7 468.1 206.1 467.8 202.8C467.5 199.5 463.5 199.5 461.9 194.8C460.2 190.2 458.2 181.6 457.9 175C457.6 168.4 458.6 162.4 459.9 155.1C461.2 147.8 462.9 138.6 465.8 131.3C468.8 124 472.8 117.1 477.7 111.5C482.7 105.8 490 100.9 495.6 97.6C501.2 94.3 505.9 92.9 511.5 91.6C517.1 90.3 522.1 89.3 529.4 89.6Z" fill="none" stroke="#fdd428" stroke-width="26" filter="url(#bA2)"/><ellipse cx="500" cy="135" rx="34" ry="42" fill="url(#gA2l0)"/><ellipse cx="588" cy="138" rx="34" ry="44" fill="url(#gA2l1)"/><ellipse cx="497" cy="270" rx="36" ry="44" fill="url(#gA2l2)"/><ellipse cx="588" cy="268" rx="36" ry="46" fill="url(#gA2l3)"/><ellipse cx="549" cy="201" rx="120" ry="72" fill="url(#gA2o)"/><ellipse cx="545" cy="201" rx="86" ry="84" fill="url(#gA2B)"/><ellipse cx="541.1" cy="200.8" rx="22" ry="92" fill="url(#gA2v)"/><ellipse cx="543" cy="201" rx="104" ry="48" fill="url(#gA2r)"/><ellipse cx="494" cy="201" rx="44" ry="11" fill="url(#gA2w)"/><ellipse cx="556" cy="202" rx="48" ry="27" fill="url(#gA2t)"/><rect x="526.6" y="162.1" width="33" height="77.4" fill="#6a0400" opacity="0.9" filter="url(#bA9)"/><ellipse cx="542.1" cy="200.8" rx="11.5" ry="45.7" fill="#000" filter="url(#bA5)"/><ellipse cx="541.1" cy="200.8" rx="8" ry="54.7" fill="#4a0200" opacity="0.7" filter="url(#bA3)"/><g mask="url(#mA2)"><rect x="446" y="44.4" width="316.9" height="315.7" filter="url(#nzL)"/></g><g mask="url(#mA2)" opacity="0.55"><rect x="446" y="44.4" width="316.9" height="315.7" filter="url(#nzD)"/></g><g mask="url(#mA2)"><g mask="url(#mA2w)"><rect x="446" y="44.4" width="316.9" height="315.7" filter="url(#nzW)"/></g></g></g>
<rect x="535.4" y="169.6" width="11.5" height="62.4" fill="#050000" stroke="#fff" stroke-width="2.9" stroke-dasharray="2.9 3.258" stroke-dashoffset="1.45"/>
<g clip-path="url(#cA3)"><rect x="769.9" y="44.4" width="316.5" height="315.7" fill="#f7aa30"/><path d="M863.3 71C871.9 70.8 879.8 72 887.1 73.7C894.4 75.5 901.3 78 906.9 81.7C912.6 85.3 917.2 90 920.8 95.6C924.5 101.2 927 108.8 928.8 115.4C930.6 122 930.6 129.3 931.6 135.3C932.5 141.2 932.9 146.5 934.7 151.2C936.6 155.8 939.4 159.4 942.7 163.1C946 166.7 950.3 169.4 954.6 173C958.9 176.6 965.2 180.9 968.5 184.9C971.8 188.9 973.8 192.8 974.4 196.8C975.1 200.8 974.4 205.1 972.4 208.7C970.5 212.4 966.5 215.3 962.5 218.6C958.6 222 952.9 224.6 948.6 228.6C944.3 232.5 939.4 236.8 936.7 242.5C934.1 248.1 933.7 255 932.7 262.3C931.8 269.6 932.1 278.9 930.8 286.1C929.4 293.4 927.8 300.4 924.8 306C921.8 311.6 917.9 316 912.9 319.9C907.9 323.7 901.3 326.8 895 329C888.7 331.2 881.8 332.5 875.2 333C868.6 333.4 862 333 855.3 331.8C848.7 330.6 841.4 328.5 835.5 325.8C829.5 323.2 824.2 320.2 819.6 315.9C815 311.6 811 306.3 807.7 300C804.4 293.7 802.1 285.8 799.8 278.2C797.4 270.6 795.8 261.6 793.8 254.4C791.8 247.1 789.5 239.5 787.8 234.5C786.2 229.6 783.5 227.6 783.9 224.6C784.2 221.6 788.5 221 789.8 216.7C791.2 212.4 791.6 203.8 791.8 198.8C792 193.8 792.2 190.5 791 186.9C789.8 183.2 784.9 181.6 784.7 177C784.5 172.3 788 165.4 789.8 159.1C791.7 152.8 794.1 145.9 795.8 139.2C797.4 132.6 798.1 126 799.8 119.4C801.4 112.8 802.7 105.5 805.7 99.5C808.7 93.6 812.7 87.8 817.6 83.7C822.6 79.6 827.9 77.1 835.5 74.9C843.1 72.8 854.7 71.2 863.3 71Z" fill="none" stroke="#fdd428" stroke-width="26" filter="url(#bA2)"/><ellipse cx="824" cy="103" rx="32" ry="36" fill="url(#gA3l0)"/><ellipse cx="908" cy="106" rx="30" ry="38" fill="url(#gA3l1)"/><ellipse cx="824" cy="300" rx="34" ry="36" fill="url(#gA3l2)"/><ellipse cx="906" cy="298" rx="32" ry="38" fill="url(#gA3l3)"/><ellipse cx="871" cy="201" rx="108" ry="112" fill="url(#gA3o)"/><ellipse cx="868" cy="201" rx="80" ry="108" fill="url(#gA3B)"/><ellipse cx="865.4" cy="201" rx="20" ry="118" fill="url(#gA3v)"/><ellipse cx="869" cy="201" rx="86" ry="100" fill="url(#gA3r)"/><ellipse cx="818" cy="201" rx="42" ry="13" fill="url(#gA3w)"/><ellipse cx="880" cy="203" rx="48" ry="34" fill="url(#gA3t)"/><rect x="850.4" y="130.6" width="34" height="140.8" fill="#6a0400" opacity="0.9" filter="url(#bA9)"/><ellipse cx="866.4" cy="201" rx="12" ry="77.4" fill="#000" filter="url(#bA5)"/><ellipse cx="865.4" cy="201" rx="8" ry="86.4" fill="#4a0200" opacity="0.7" filter="url(#bA3)"/><g mask="url(#mA3)"><rect x="769.9" y="44.4" width="316.5" height="315.7" filter="url(#nzL)"/></g><g mask="url(#mA3)" opacity="0.55"><rect x="769.9" y="44.4" width="316.5" height="315.7" filter="url(#nzD)"/></g><g mask="url(#mA3)"><g mask="url(#mA3w)"><rect x="769.9" y="44.4" width="316.5" height="315.7" filter="url(#nzW)"/></g></g></g>
<rect x="859.6" y="138.1" width="11.5" height="125.8" fill="#050000" stroke="#fff" stroke-width="2.9" stroke-dasharray="2.9 3.202" stroke-dashoffset="1.45"/>
<g clip-path="url(#cA4)"><rect x="1093.4" y="44.4" width="316.8" height="315.7" fill="url(#gA4h)"/><rect x="1093.4" y="44.4" width="316.8" height="315.7" fill="url(#gA4v)"/><rect x="1238" y="150" width="70" height="110" fill="url(#gA4r)"/><ellipse cx="1211.3" cy="201.5" rx="84" ry="42" fill="url(#gA4t2)"/><ellipse cx="1198.3" cy="201.5" rx="66" ry="21" fill="url(#gA4t)"/><g clip-path="url(#cA4w)"><rect x="1110" y="180" width="72" height="42" fill="url(#gA4w)"/><rect x="1110" y="180" width="72" height="42" filter="url(#nzW)" opacity="0.3"/><rect x="1110" y="180" width="72" height="42" filter="url(#nzD)" opacity="0.8"/></g><path d="M1112 184.5C1135 186 1160 190 1180 197M1112 217C1135 215.5 1160 212 1180 205" stroke="#d82408" stroke-width="2" fill="none" opacity="0.7" filter="url(#bA2)"/><g mask="url(#mA4)" opacity="0.28"><rect x="1093.4" y="44.4" width="316.8" height="315.7" filter="url(#nzL)"/></g><g mask="url(#mA4)" opacity="0.5"><rect x="1093.4" y="44.4" width="316.8" height="315.7" filter="url(#nzD)"/></g></g>
<rect x="1180.6" y="44.4" width="17.6" height="315.7" fill="#080000"/>
<path d="M1184.3 46.4V360.1M1193.9 46.4V360.1" stroke="#fff" stroke-width="2.9" stroke-dasharray="2.9 3.15" fill="none"/>
<path d="M123.8 744.6V594H127.3V594H130.8V590.5H134.3V590.5H137.8V587H141.3V587H144.8V583.5H148.3V580H151.9V576.5H155.4V573H158.9V569.5H162.4V566H165.9V562.5H169.4V559H172.9V555.5H176.4V555.5H179.9V552H183.4V552H186.9V548.5H190.4V545H193.9V545H197.4V541.5H200.9V541.5H204.5V538H208V534.5H211.5V534.5H215V534.5H218.5V534.5H222V534.5H225.5V534.5H229V531H232.5V531H236V527.5H239.5V527.5H243V524H246.5V524H250V524H253.5V524H257.1V524H260.6V524H264.1V524H267.6V524H271.1V524H274.6V524H278.1V524H281.6V527.5H285.1V527.5H288.6V527.5H292.1V527.5H295.6V527.5H299.1V527.5H302.6V531H306.1V531H309.7V531H313.2V531H316.7V531H320.2V531H323.7V534.5H327.2V538H330.7V538H334.2V541.5H337.7V545H341.2V545H344.7V548.5H348.2V552H351.7V552H355.2V555.5H358.7V555.5H362.3V559H365.8V559H369.3V562.5H372.8V566H376.3V566H379.8V569.5H383.3V573H386.8V573H390.3V576.5H393.8V580H397.3V580H400.8V583.5H404.3V583.5H407.8V583.5H411.3V583.5H414.9V583.5H418.4V583.5H421.9V583.5H425.4V587H428.9V587H432.4V587H435.9V587H439.4V744.6Z" fill="#f4e07c" opacity="0.85"/><g clip-path="url(#cB1)"><rect x="123.8" y="464.5" width="315.6" height="280.1" fill="url(#gB1)"/><ellipse cx="282.6" cy="746" rx="50" ry="86" fill="url(#gB1r)"/><ellipse cx="282.6" cy="748" rx="38" ry="62" fill="url(#gB1p)"/><rect x="123.8" y="464.5" width="315.6" height="280.1" fill="url(#gB1bot)"/><g mask="url(#mB1)"><rect x="123.8" y="690" width="315.6" height="55" filter="url(#nzP)"/></g><rect x="123.8" y="739.6" width="315.6" height="3.4" fill="#3c28b4" opacity="0.9"/><rect x="123.8" y="743" width="315.6" height="1.8" fill="#0c0c34"/></g>
<path d="M229.2 466V744M334.6 466V744" stroke="#4c4c4c" stroke-width="2.7" stroke-dasharray="5.8 3.5" fill="none" opacity="0.95"/>
<path d="M240 494.2H323" stroke="#5c5c5c" stroke-width="1.3" fill="none"/>
<path d="M233.6 494.2L245 490.6L242.2 494.2L245 497.8ZM329.8 494.2L318.4 490.6L321.2 494.2L318.4 497.8Z" fill="#5c5c5c"/>
<path d="M447.4 744.6V555.5H450.9V555.5H454.4V559H457.9V562.5H461.4V569.5H464.9V573H468.4V576.5H471.9V580H475.4V583.5H478.9V583.5H482.4V583.5H485.9V580H489.5V576.5H493V573H496.5V569.5H500V569.5H503.5V566H507V566H510.5V566H514V566H517.5V566H521V566H524.5V566H528V566H531.5V569.5H535V573H538.5V576.5H542V580H545.5V580H549V583.5H552.5V587H556V590.5H559.5V590.5H563V590.5H566.6V590.5H570.1V590.5H573.6V594H577.1V594H580.6V594H584.1V594H587.6V594H591.1V594H594.6V594H598.1V594H601.6V594H605.1V594H608.6V594H612.1V594H615.6V594H619.1V594H622.6V594H626.1V594H629.6V594H633.1V594H636.6V594H640.1V594H643.6V594H647.2V594H650.7V590.5H654.2V587H657.7V583.5H661.2V583.5H664.7V580H668.2V576.5H671.7V573H675.2V573H678.7V569.5H682.2V569.5H685.7V569.5H689.2V569.5H692.7V569.5H696.2V569.5H699.7V573H703.2V573H706.7V576.5H710.2V580H713.7V583.5H717.2V583.5H720.7V587H724.3V587H727.8V587H731.3V587H734.8V587H738.3V587H741.8V583.5H745.3V580H748.8V576.5H752.3V573H755.8V569.5H759.3V566H762.8V744.6Z" fill="#f4e07c" opacity="0.85"/><g clip-path="url(#cB2)"><rect x="447.4" y="464.5" width="315.4" height="280.1" fill="url(#gB2)"/><ellipse cx="605.1" cy="752" rx="92" ry="100" fill="url(#gB2o)"/><path d="M565.1 746C566.3 741 570.3 727 572.1 716C573.9 705 575.3 692.7 576.1 680C576.9 667.3 576.9 654.5 577.1 640C577.3 625.5 577.1 605.2 577.1 593.1C577.1 581 576.9 575.8 577.1 567.3C577.3 558.9 577.4 550 578.2 542.3C578.9 534.5 580.3 528 581.7 520.8C583.2 513.7 585.3 505.6 587.1 499.4C588.9 493.1 591 486.9 592.5 483.3C594 479.6 594.3 478.5 596.1 477.5C597.8 476.6 601.6 476.6 603.2 477.5C604.8 478.4 604.2 481.9 605.7 482.9C607.2 483.9 610.2 481.7 612.2 483.3C614.1 484.8 616 488.3 617.5 492.2C619 496.1 619.9 501.1 621.1 506.5C622.3 511.9 623.5 517.8 624.7 524.4C625.9 531 627.1 538.7 628.3 545.9C629.5 553 630.9 559.5 631.8 567.3C632.7 575.2 633.2 581 633.6 593.1C634 605.2 633.9 625.5 634.1 640C634.3 654.5 634.3 667.3 635.1 680C635.9 692.7 637.1 705 639.1 716C641.1 727 645.8 741 647.1 746Z" fill="url(#gB2c)" filter="url(#bl3)"/></g><g clip-path="url(#cB2u)"><path d="M565.1 746C566.3 741 570.3 727 572.1 716C573.9 705 575.3 692.7 576.1 680C576.9 667.3 576.9 654.5 577.1 640C577.3 625.5 577.1 605.2 577.1 593.1C577.1 581 576.9 575.8 577.1 567.3C577.3 558.9 577.4 550 578.2 542.3C578.9 534.5 580.3 528 581.7 520.8C583.2 513.7 585.3 505.6 587.1 499.4C588.9 493.1 591 486.9 592.5 483.3C594 479.6 594.3 478.5 596.1 477.5C597.8 476.6 601.6 476.6 603.2 477.5C604.8 478.4 604.2 481.9 605.7 482.9C607.2 483.9 610.2 481.7 612.2 483.3C614.1 484.8 616 488.3 617.5 492.2C619 496.1 619.9 501.1 621.1 506.5C622.3 511.9 623.5 517.8 624.7 524.4C625.9 531 627.1 538.7 628.3 545.9C629.5 553 630.9 559.5 631.8 567.3C632.7 575.2 633.2 581 633.6 593.1C634 605.2 633.9 625.5 634.1 640C634.3 654.5 634.3 667.3 635.1 680C635.9 692.7 637.1 705 639.1 716C641.1 727 645.8 741 647.1 746Z" fill="url(#gB2c)"/><g clip-path="url(#cB2c)" fill="none"><path d="M583.1 478V720" stroke="#e07a14" stroke-width="2.2" opacity="0.25"/><path d="M589.4 478V720" stroke="#e07a14" stroke-width="1.6" opacity="0.18"/><path d="M595.4 478V720" stroke="#e07a14" stroke-width="1.6" opacity="0.32"/><path d="M599.1 478V720" stroke="#e07a14" stroke-width="2.2" opacity="0.18"/><path d="M605.7 478V720" stroke="#e07a14" stroke-width="1.2" opacity="0.25"/><path d="M611.3 478V720" stroke="#e07a14" stroke-width="1.6" opacity="0.18"/><path d="M615.1 478V720" stroke="#e07a14" stroke-width="1.2" opacity="0.18"/><path d="M621.5 478V720" stroke="#e07a14" stroke-width="1.6" opacity="0.32"/><path d="M627 478V720" stroke="#e07a14" stroke-width="1.6" opacity="0.32"/></g></g><g clip-path="url(#cB2)"><ellipse cx="605.1" cy="748" rx="46" ry="112" fill="url(#gB2r)"/><ellipse cx="605.1" cy="748" rx="27" ry="92" fill="url(#gB2h)"/><g filter="url(#bl1)" fill="none" stroke="url(#gB2leg)" stroke-width="4.0" stroke-linecap="round"><path d="M579 660L580.4 690L582.7 742"/><path d="M631.9 660L628.4 694L622.6 742"/></g><path d="M580.4 704L628.4 704L623.6 746L581.7 746Z" fill="url(#gB2foot)" filter="url(#bl1)"/><rect x="447.4" y="740.2" width="315.4" height="3.2" fill="#4428c8"/><rect x="447.4" y="743.3" width="315.4" height="1.5" fill="#0c0c34"/><ellipse cx="605.1" cy="744.2" rx="28" ry="3.4" fill="url(#gB2k)"/></g>
<path d="M769.9 744.6V594H773.4V594H776.9V594H780.4V597.5H783.9V601H787.5V601H791V604.5H794.5V604.5H798V604.5H801.5V604.5H805V604.5H808.5V604.5H812V604.5H815.5V601H819.1V601H822.6V601H826.1V601H829.6V601H833.1V601H836.6V601H840.1V601H843.6V601H847.1V604.5H850.7V608.1H854.2V608.1H857.7V611.6H861.2V615.1H864.7V618.6H868.2V618.6H871.7V622.1H875.2V625.6H878.7V629.1H882.3V632.6H885.8V632.6H889.3V632.6H892.8V632.6H896.3V636.1H899.8V636.1H903.3V636.1H906.8V636.1H910.3V636.1H913.9V636.1H917.4V636.1H920.9V636.1H924.4V636.1H927.9V636.1H931.4V636.1H934.9V636.1H938.4V636.1H941.9V636.1H945.5V636.1H949V636.1H952.5V636.1H956V636.1H959.5V636.1H963V636.1H966.5V636.1H970V632.6H973.5V632.6H977.1V625.6H980.6V622.1H984.1V622.1H987.6V618.6H991.1V615.1H994.6V611.6H998.1V611.6H1001.6V608.1H1005.1V608.1H1008.7V604.5H1012.2V604.5H1015.7V604.5H1019.2V604.5H1022.7V604.5H1026.2V604.5H1029.7V604.5H1033.2V604.5H1036.7V604.5H1040.3V604.5H1043.8V604.5H1047.3V604.5H1050.8V604.5H1054.3V604.5H1057.8V604.5H1061.3V604.5H1064.8V604.5H1068.3V604.5H1071.9V604.5H1075.4V604.5H1078.9V604.5H1082.4V604.5H1085.9V744.6Z" fill="#f4e07c" opacity="0.85"/><g clip-path="url(#cB3)"><rect x="769.9" y="464.5" width="316" height="280.1" fill="url(#gB3)"/><ellipse cx="927.9" cy="752" rx="84" ry="112" fill="url(#gB3o)"/><ellipse cx="927.9" cy="750" rx="58" ry="80" fill="url(#gB3r)"/><path d="M901.9 746C902.7 741 906.2 725.3 906.9 716C907.6 706.7 906.4 699.3 905.9 690C905.4 680.7 904.2 668.9 903.9 660C903.6 651.1 904.2 644.1 904 636.4C903.7 628.7 902.5 623 902.2 613.8C901.9 604.7 901.8 591.2 902.2 581.6C902.5 572.1 903.2 565.5 904.3 556.6C905.4 547.7 907.3 536.6 909 528C910.6 519.3 912.5 511.2 914.3 504.7C916.1 498.3 918 493.5 919.7 489.3C921.4 485.2 922 481.6 924.4 480C926.7 478.5 931.6 478.5 933.7 480C935.7 481.6 935.5 484.9 936.9 489.3C938.2 493.8 940.2 499.5 941.9 506.5C943.6 513.5 945.6 523.2 947.2 531.6C948.9 539.9 950.4 548.6 951.5 556.6C952.7 564.7 953.5 572.1 954 579.9C954.6 587.6 954.8 595.7 954.8 603.1C954.8 610.6 954.2 619 954 624.6C953.9 630.1 954.7 630.5 954 636.4C953.4 642.3 951.1 651.1 949.9 660C948.7 668.9 947.7 680.7 946.9 690C946.1 699.3 944.4 706.7 944.9 716C945.4 725.3 949.1 741 949.9 746Z" fill="url(#gB3c)" filter="url(#bl3)"/></g><g clip-path="url(#cB3u)"><path d="M901.9 746C902.7 741 906.2 725.3 906.9 716C907.6 706.7 906.4 699.3 905.9 690C905.4 680.7 904.2 668.9 903.9 660C903.6 651.1 904.2 644.1 904 636.4C903.7 628.7 902.5 623 902.2 613.8C901.9 604.7 901.8 591.2 902.2 581.6C902.5 572.1 903.2 565.5 904.3 556.6C905.4 547.7 907.3 536.6 909 528C910.6 519.3 912.5 511.2 914.3 504.7C916.1 498.3 918 493.5 919.7 489.3C921.4 485.2 922 481.6 924.4 480C926.7 478.5 931.6 478.5 933.7 480C935.7 481.6 935.5 484.9 936.9 489.3C938.2 493.8 940.2 499.5 941.9 506.5C943.6 513.5 945.6 523.2 947.2 531.6C948.9 539.9 950.4 548.6 951.5 556.6C952.7 564.7 953.5 572.1 954 579.9C954.6 587.6 954.8 595.7 954.8 603.1C954.8 610.6 954.2 619 954 624.6C953.9 630.1 954.7 630.5 954 636.4C953.4 642.3 951.1 651.1 949.9 660C948.7 668.9 947.7 680.7 946.9 690C946.1 699.3 944.4 706.7 944.9 716C945.4 725.3 949.1 741 949.9 746Z" fill="url(#gB3c)"/><g clip-path="url(#cB3c)" fill="none"><path d="M908.5 480V720" stroke="#e07a14" stroke-width="2.2" opacity="0.18"/><path d="M913.9 480V720" stroke="#e07a14" stroke-width="1.6" opacity="0.25"/><path d="M918.4 480V720" stroke="#e07a14" stroke-width="2.2" opacity="0.32"/><path d="M922.4 480V720" stroke="#e07a14" stroke-width="2.2" opacity="0.32"/><path d="M928.8 480V720" stroke="#e07a14" stroke-width="1.6" opacity="0.32"/><path d="M932.8 480V720" stroke="#e07a14" stroke-width="1.6" opacity="0.25"/><path d="M938.6 480V720" stroke="#e07a14" stroke-width="2.2" opacity="0.18"/><path d="M942.2 480V720" stroke="#e07a14" stroke-width="1.6" opacity="0.32"/><path d="M947.4 480V720" stroke="#e07a14" stroke-width="1.2" opacity="0.32"/></g></g><g clip-path="url(#cB3)"><ellipse cx="927.9" cy="748" rx="42" ry="30" fill="url(#gB3h)"/><g filter="url(#bl1)" fill="none" stroke="url(#gB3leg)" stroke-width="4.0" stroke-linecap="round"><path d="M908.1 650L910.3 678L914 741"/><path d="M947 650L943.6 686L938 741"/></g><path d="M910.3 694L943.6 694L939 746L913 746Z" fill="url(#gB3foot)" filter="url(#bl1)"/><rect x="769.9" y="739.6" width="316" height="3.8" fill="#2e2898"/><rect x="769.9" y="743.3" width="316" height="1.5" fill="#0c0c34"/><ellipse cx="927.9" cy="744.2" rx="32" ry="3.6" fill="url(#gB3k)"/></g>
<g clip-path="url(#cB4all)"><g clip-path="url(#cB4)"><rect x="1093.5" y="464.5" width="316.4" height="280.1" fill="url(#gB4s)"/><ellipse cx="1251" cy="756" rx="130" ry="100" fill="url(#gB4m)"/><path d="M1093.5 744.6V735.8H1097V735.8H1100.5V735.8H1104V735.8H1107.6V735.8H1111.1V735.8H1114.6V735.8H1118.1V735.8H1121.6V734.1H1125.1V734.1H1128.7V734.1H1132.2V734.1H1135.7V734.1H1139.2V734.1H1142.7V734.1H1146.2V734.1H1149.7V734.1H1153.3V734.1H1156.8V734.1H1160.3V732.3H1163.8V727.1H1167.3V721.8H1170.8V718.3H1174.4V714.8H1177.9V713.1H1181.4V711.3H1184.9V709.6H1188.4V706.1H1191.9V704.3H1195.5V699.1H1199V693.8H1202.5V686.8H1206V681.6H1209.5V678.1H1213V674.6H1216.5V672.8H1220.1V669.3H1223.6V669.3H1227.1V669.3H1230.6V669.3H1234.1V669.3H1237.6V669.3H1241.2V669.3H1244.7V671.1H1248.2V671.1H1251.7V672.8H1255.2V672.8H1258.7V672.8H1262.2V674.6H1265.8V674.6H1269.3V674.6H1272.8V676.3H1276.3V676.3H1279.8V678.1H1283.3V678.1H1286.9V679.8H1290.4V688.6H1293.9V692.1H1297.4V695.6H1300.9V699.1H1304.4V702.6H1307.9V704.3H1311.5V704.3H1315V706.1H1318.5V706.1H1322V709.6H1325.5V713.1H1329V714.8H1332.6V716.6H1336.1V718.3H1339.6V720.1H1343.1V723.6H1346.6V727.1H1350.1V728.8H1353.7V728.8H1357.2V728.8H1360.7V728.8H1364.2V730.6H1367.7V730.6H1371.2V730.6H1374.7V730.6H1378.3V730.6H1381.8V730.6H1385.3V732.3H1388.8V732.3H1392.3V732.3H1395.8V732.3H1399.4V732.3H1402.9V732.3H1406.4V732.3H1409.9V744.6Z" fill="none" stroke="#f0941e" stroke-width="24" opacity="0.8" filter="url(#bl5)"/><path d="M1093.5 744.6V735.8H1097V735.8H1100.5V735.8H1104V735.8H1107.6V735.8H1111.1V735.8H1114.6V735.8H1118.1V735.8H1121.6V734.1H1125.1V734.1H1128.7V734.1H1132.2V734.1H1135.7V734.1H1139.2V734.1H1142.7V734.1H1146.2V734.1H1149.7V734.1H1153.3V734.1H1156.8V734.1H1160.3V732.3H1163.8V727.1H1167.3V721.8H1170.8V718.3H1174.4V714.8H1177.9V713.1H1181.4V711.3H1184.9V709.6H1188.4V706.1H1191.9V704.3H1195.5V699.1H1199V693.8H1202.5V686.8H1206V681.6H1209.5V678.1H1213V674.6H1216.5V672.8H1220.1V669.3H1223.6V669.3H1227.1V669.3H1230.6V669.3H1234.1V669.3H1237.6V669.3H1241.2V669.3H1244.7V671.1H1248.2V671.1H1251.7V672.8H1255.2V672.8H1258.7V672.8H1262.2V674.6H1265.8V674.6H1269.3V674.6H1272.8V676.3H1276.3V676.3H1279.8V678.1H1283.3V678.1H1286.9V679.8H1290.4V688.6H1293.9V692.1H1297.4V695.6H1300.9V699.1H1304.4V702.6H1307.9V704.3H1311.5V704.3H1315V706.1H1318.5V706.1H1322V709.6H1325.5V713.1H1329V714.8H1332.6V716.6H1336.1V718.3H1339.6V720.1H1343.1V723.6H1346.6V727.1H1350.1V728.8H1353.7V728.8H1357.2V728.8H1360.7V728.8H1364.2V730.6H1367.7V730.6H1371.2V730.6H1374.7V730.6H1378.3V730.6H1381.8V730.6H1385.3V732.3H1388.8V732.3H1392.3V732.3H1395.8V732.3H1399.4V732.3H1402.9V732.3H1406.4V732.3H1409.9V744.6Z" fill="none" stroke="#f4d448" stroke-width="10" filter="url(#bl4)"/><ellipse cx="1251" cy="748" rx="62" ry="34" fill="url(#gB4h)"/></g><path d="M1238.5 746C1238.7 740.2 1239.8 721.2 1239.5 711C1239.2 700.8 1237.9 692.7 1237 685C1236.1 677.3 1235.2 670.9 1234 665C1232.8 659.1 1230.9 655.2 1229.7 649.6C1228.6 644.1 1227.7 637.1 1227.2 631.7C1226.8 626.4 1226.8 622.8 1227.2 617.4C1227.7 612.1 1228.7 605.5 1229.7 599.5C1230.8 593.6 1232.1 587.6 1233.3 581.6C1234.5 575.7 1236 569.7 1236.9 563.8C1237.8 557.8 1237.8 550.6 1238.7 545.9C1239.6 541.1 1241 538.4 1242.3 535.1C1243.5 531.9 1244.3 527.7 1246.2 526.2C1248.1 524.7 1251.7 524.1 1253.7 526.2C1255.7 528.3 1256.7 534.8 1258.4 538.7C1260 542.6 1262.2 544.7 1263.7 549.4C1265.2 554.2 1266.4 561.4 1267.3 567.3C1268.2 573.3 1268.2 578.7 1269.1 585.2C1270 591.8 1271.8 600.1 1272.7 606.7C1273.6 613.2 1274.5 618.6 1274.5 624.6C1274.5 630.5 1273.6 635.7 1272.7 642.5C1271.8 649.2 1270.3 657.9 1269 665C1267.7 672.1 1266 677.3 1265 685C1264 692.7 1263 700.8 1262.7 711C1262.5 721.2 1263.4 740.2 1263.5 746Z" fill="url(#gB4c)"/><g clip-path="url(#cB4c)"><rect x="1232" y="520" width="40" height="226" fill="url(#gB4x)" mask="url(#mB4x)"/><g fill="none"><path d="M1235.4 526V720" stroke="#e07a14" stroke-width="2.2" opacity="0.32"/><path d="M1241.4 526V720" stroke="#e07a14" stroke-width="1.2" opacity="0.25"/><path d="M1245.3 526V720" stroke="#e07a14" stroke-width="1.2" opacity="0.18"/><path d="M1250.2 526V720" stroke="#e07a14" stroke-width="1.2" opacity="0.18"/><path d="M1255.5 526V720" stroke="#e07a14" stroke-width="2.2" opacity="0.32"/><path d="M1262.3 526V720" stroke="#e07a14" stroke-width="2.2" opacity="0.32"/><path d="M1266.2 526V720" stroke="#e07a14" stroke-width="1.6" opacity="0.32"/></g><g filter="url(#bl1)" fill="none" stroke="url(#gB4leg)" stroke-width="4.0" stroke-linecap="round"><path d="M1240.7 664L1241.4 698L1242.6 742"/><path d="M1261.5 664L1260.8 702L1259.6 742"/></g><path d="M1241.4 708L1260.8 708L1260.6 746L1241.6 746Z" fill="url(#gB4foot)" filter="url(#bl1)"/></g><rect x="1093.5" y="740.8" width="316.4" height="4" fill="#07071a"/></g>
<path d="M186.1 44.4v3.4M186.1 360.1v-3.4M249.4 44.4v3.4M249.4 360.1v-3.4M312.6 44.4v3.4M312.6 360.1v-3.4M375.9 44.4v3.4M375.9 360.1v-3.4M122.9 297h3.4M439.1 297h-3.4M122.9 233.8h3.4M439.1 233.8h-3.4M122.9 170.7h3.4M439.1 170.7h-3.4M122.9 107.5h3.4M439.1 107.5h-3.4M509.4 44.4v3.4M509.4 360.1v-3.4M572.8 44.4v3.4M572.8 360.1v-3.4M636.1 44.4v3.4M636.1 360.1v-3.4M699.5 44.4v3.4M699.5 360.1v-3.4M446 297h3.4M762.9 297h-3.4M446 233.8h3.4M762.9 233.8h-3.4M446 170.7h3.4M762.9 170.7h-3.4M446 107.5h3.4M762.9 107.5h-3.4M833.2 44.4v3.4M833.2 360.1v-3.4M896.5 44.4v3.4M896.5 360.1v-3.4M959.8 44.4v3.4M959.8 360.1v-3.4M1023.1 44.4v3.4M1023.1 360.1v-3.4M769.9 297h3.4M1086.4 297h-3.4M769.9 233.8h3.4M1086.4 233.8h-3.4M769.9 170.7h3.4M1086.4 170.7h-3.4M769.9 107.5h3.4M1086.4 107.5h-3.4M1156.8 44.4v3.4M1156.8 360.1v-3.4M1220.1 44.4v3.4M1220.1 360.1v-3.4M1283.5 44.4v3.4M1283.5 360.1v-3.4M1346.8 44.4v3.4M1346.8 360.1v-3.4M1093.4 297h3.4M1410.2 297h-3.4M1093.4 233.8h3.4M1410.2 233.8h-3.4M1093.4 170.7h3.4M1410.2 170.7h-3.4M1093.4 107.5h3.4M1410.2 107.5h-3.4M202.7 464.5v3.4M202.7 744.6v-3.4M281.6 464.5v3.4M281.6 744.6v-3.4M360.5 464.5v3.4M360.5 744.6v-3.4M123.8 709.6h3.4M439.4 709.6h-3.4M123.8 674.6h3.4M439.4 674.6h-3.4M123.8 639.6h3.4M439.4 639.6h-3.4M123.8 604.5h3.4M439.4 604.5h-3.4M123.8 569.5h3.4M439.4 569.5h-3.4M123.8 534.5h3.4M439.4 534.5h-3.4M123.8 499.5h3.4M439.4 499.5h-3.4M526.2 464.5v3.4M526.2 744.6v-3.4M605.1 464.5v3.4M605.1 744.6v-3.4M683.9 464.5v3.4M683.9 744.6v-3.4M447.4 709.6h3.4M762.8 709.6h-3.4M447.4 674.6h3.4M762.8 674.6h-3.4M447.4 639.6h3.4M762.8 639.6h-3.4M447.4 604.5h3.4M762.8 604.5h-3.4M447.4 569.5h3.4M762.8 569.5h-3.4M447.4 534.5h3.4M762.8 534.5h-3.4M447.4 499.5h3.4M762.8 499.5h-3.4M848.9 464.5v3.4M848.9 744.6v-3.4M927.9 464.5v3.4M927.9 744.6v-3.4M1006.9 464.5v3.4M1006.9 744.6v-3.4M769.9 709.6h3.4M1085.9 709.6h-3.4M769.9 674.6h3.4M1085.9 674.6h-3.4M769.9 639.6h3.4M1085.9 639.6h-3.4M769.9 604.5h3.4M1085.9 604.5h-3.4M769.9 569.5h3.4M1085.9 569.5h-3.4M769.9 534.5h3.4M1085.9 534.5h-3.4M769.9 499.5h3.4M1085.9 499.5h-3.4M1172.6 464.5v3.4M1172.6 744.6v-3.4M1251.7 464.5v3.4M1251.7 744.6v-3.4M1330.8 464.5v3.4M1330.8 744.6v-3.4M1093.5 709.6h3.4M1409.9 709.6h-3.4M1093.5 674.6h3.4M1409.9 674.6h-3.4M1093.5 639.6h3.4M1409.9 639.6h-3.4M1093.5 604.5h3.4M1409.9 604.5h-3.4M1093.5 569.5h3.4M1409.9 569.5h-3.4M1093.5 534.5h3.4M1409.9 534.5h-3.4M1093.5 499.5h3.4M1409.9 499.5h-3.4" stroke="#555" stroke-width="1" fill="none"/>
<rect x="122.9" y="44.4" width="316.2" height="315.7" fill="none" stroke="#444" stroke-width="1.3"/>
<rect x="446" y="44.4" width="316.9" height="315.7" fill="none" stroke="#444" stroke-width="1.3"/>
<rect x="769.9" y="44.4" width="316.5" height="315.7" fill="none" stroke="#444" stroke-width="1.3"/>
<rect x="1093.4" y="44.4" width="316.8" height="315.7" fill="none" stroke="#444" stroke-width="1.3"/>
<rect x="123.8" y="464.5" width="315.6" height="280.1" fill="none" stroke="#444" stroke-width="1.3"/>
<rect x="447.4" y="464.5" width="315.4" height="280.1" fill="none" stroke="#444" stroke-width="1.3"/>
<rect x="769.9" y="464.5" width="316" height="280.1" fill="none" stroke="#444" stroke-width="1.3"/>
<rect x="1093.5" y="464.5" width="316.4" height="280.1" fill="none" stroke="#444" stroke-width="1.3"/>
<rect x="1430.6" y="44.4" width="15.7" height="315.7" fill="url(#cbA)" stroke="#333" stroke-width="1.2"/>
<rect x="1431.4" y="464.5" width="14.8" height="280.1" fill="url(#cbB)" stroke="#333" stroke-width="1.2"/>
<path d="M1446.3 123.3h-3M1446.3 202.3h-3M1446.3 281.2h-3M1446.2 511.2h-3M1446.2 557.9h-3M1446.2 604.5h-3M1446.2 651.2h-3M1446.2 697.9h-3" stroke="#222" stroke-width="1" fill="none"/>
<g font-family='"Liberation Sans", "DejaVu Sans", sans-serif' fill="#000" stroke="#000" stroke-width="0.3"><text x="2" y="41" font-size="52" text-anchor="start">a<tspan dx="2.2">)</tspan></text>
<text x="2" y="469" font-size="53.5" text-anchor="start">b<tspan dx="2.2">)</tspan></text>
<text x="281.5" y="33.8" font-size="30" text-anchor="middle">cylindrical</text>
<text x="473.8" y="33.8" font-size="30.2" text-anchor="start">planar,<tspan font-family='"Liberation Serif", "DejaVu Serif", serif' font-style="italic" font-size="35" dx="6">w</tspan><tspan dx="9.5">= 10 µm</tspan></text>
<text x="798.3" y="33.8" font-size="30.2" text-anchor="start">planar,<tspan font-family='"Liberation Serif", "DejaVu Serif", serif' font-style="italic" font-size="35" dx="6">w</tspan><tspan dx="9.5">= 20 µm</tspan></text>
<text x="1161.5" y="36.8" font-size="30.2" text-anchor="start">foil-like,<tspan font-family='"Liberation Serif", "DejaVu Serif", serif' font-style="italic" font-size="37" dx="6">t</tspan><tspan dx="9">= 2 µm</tspan></text>
<text x="116.5" y="369.3" font-size="22" text-anchor="end">0</text>
<text x="116.5" y="304.7" font-size="22" text-anchor="end">10</text>
<text x="116.5" y="240.9" font-size="22" text-anchor="end">20</text>
<text x="116.5" y="178.3" font-size="22" text-anchor="end">30</text>
<text x="116.5" y="115.6" font-size="22" text-anchor="end">40</text>
<text x="116.5" y="54.3" font-size="22" text-anchor="end">50</text>
<text x="187.1" y="384" font-size="22" text-anchor="middle">10</text>
<text x="250.4" y="384" font-size="22" text-anchor="middle">20</text>
<text x="313.6" y="384" font-size="22" text-anchor="middle">30</text>
<text x="376.9" y="384" font-size="22" text-anchor="middle">40</text>
<text x="278.3" y="410.3" font-size="33.5" text-anchor="middle">y / µm</text>
<text x="510.4" y="384" font-size="22" text-anchor="middle">10</text>
<text x="573.8" y="384" font-size="22" text-anchor="middle">20</text>
<text x="637.1" y="384" font-size="22" text-anchor="middle">30</text>
<text x="700.5" y="384" font-size="22" text-anchor="middle">40</text>
<text x="604.8" y="413.3" font-size="33.5" text-anchor="middle">y / µm</text>
<text x="834.2" y="384" font-size="22" text-anchor="middle">10</text>
<text x="897.5" y="384" font-size="22" text-anchor="middle">20</text>
<text x="960.8" y="384" font-size="22" text-anchor="middle">30</text>
<text x="1024.1" y="384" font-size="22" text-anchor="middle">40</text>
<text x="928" y="413.3" font-size="33.5" text-anchor="middle">y / µm</text>
<text x="1157.8" y="384" font-size="22" text-anchor="middle">10</text>
<text x="1221.1" y="384" font-size="22" text-anchor="middle">20</text>
<text x="1284.5" y="384" font-size="22" text-anchor="middle">30</text>
<text x="1347.8" y="384" font-size="22" text-anchor="middle">40</text>
<text x="1255.5" y="413" font-size="33.5" text-anchor="middle">y / µm</text>
<text x="116.5" y="749.1" font-size="22" text-anchor="end">0</text>
<text x="116.5" y="683.9" font-size="22" text-anchor="end">10</text>
<text x="116.5" y="615.3" font-size="22" text-anchor="end">20</text>
<text x="116.5" y="547.1" font-size="22" text-anchor="end">30</text>
<text x="116.5" y="476.9" font-size="22" text-anchor="end">40</text>
<text x="122.8" y="768.6" font-size="22" text-anchor="middle">-90</text>
<text x="201.7" y="768.6" font-size="22" text-anchor="middle">-45</text>
<text x="281.6" y="768.6" font-size="22" text-anchor="middle">0</text>
<text x="360.5" y="768.6" font-size="22" text-anchor="middle">45</text>
<text x="277.6" y="800.6" font-size="34" text-anchor="middle">angle / degree</text>
<text x="448.4" y="768.6" font-size="22" text-anchor="middle">-90</text>
<text x="528.2" y="768.6" font-size="22" text-anchor="middle">-45</text>
<text x="607.1" y="768.6" font-size="22" text-anchor="middle">0</text>
<text x="685.9" y="768.6" font-size="22" text-anchor="middle">45</text>
<text x="604.8" y="800.6" font-size="34" text-anchor="middle">angle / degree</text>
<text x="770.9" y="768.6" font-size="22" text-anchor="middle">-90</text>
<text x="850.9" y="768.6" font-size="22" text-anchor="middle">-45</text>
<text x="929.9" y="768.6" font-size="22" text-anchor="middle">0</text>
<text x="1008.9" y="768.6" font-size="22" text-anchor="middle">45</text>
<text x="927.6" y="800.6" font-size="34" text-anchor="middle">angle / degree</text>
<text x="1094.5" y="768.6" font-size="22" text-anchor="middle">-90</text>
<text x="1174.6" y="768.6" font-size="22" text-anchor="middle">-45</text>
<text x="1253.7" y="768.6" font-size="22" text-anchor="middle">0</text>
<text x="1332.8" y="768.6" font-size="22" text-anchor="middle">45</text>
<text x="1251.4" y="800.6" font-size="34" text-anchor="middle">angle / degree</text>
<text transform="translate(79.8 201) rotate(-90)" font-size="33.5" text-anchor="middle">x / µm</text>
<text transform="translate(78.8 605.4) rotate(-90)" font-size="34" text-anchor="middle">energy / MeV</text>
<text x="1447.6" y="55.1" font-size="21.3" text-anchor="start">1E0</text>
<text x="1447.6" y="130.3" font-size="21.3" text-anchor="start">1E-1</text>
<text x="1447.6" y="209.3" font-size="21.3" text-anchor="start">1E-2</text>
<text x="1447.6" y="288.2" font-size="21.3" text-anchor="start">1E-3</text>
<text x="1447.6" y="368.7" font-size="21.3" text-anchor="start">1E-4</text>
<text x="1447.6" y="474" font-size="21.3" text-anchor="start">1E10</text>
<text x="1447.6" y="518.7" font-size="21.3" text-anchor="start">1E9</text>
<text x="1447.6" y="565.4" font-size="21.3" text-anchor="start">1E8</text>
<text x="1447.6" y="612" font-size="21.3" text-anchor="start">1E7</text>
<text x="1447.6" y="658.7" font-size="21.3" text-anchor="start">1E6</text>
<text x="1447.6" y="705.4" font-size="21.3" text-anchor="start">1E5</text>
<text x="1447.6" y="751.7" font-size="21.3" text-anchor="start">1E4</text>
<text transform="translate(1530.3 202.2) rotate(-90)" font-size="33.5" text-anchor="middle">p charge density / arb. u.</text>
<text transform="translate(1531 602.8) rotate(-90)" font-size="33.8" text-anchor="middle">particle number</text>
<text transform="translate(1570.5 602.8) rotate(-90)" font-size="33.5" text-anchor="middle">/ MeV / arb. u.</text>
<text x="318.8" y="330" font-size="20.6" text-anchor="middle">initial target position</text>
<text x="281.9" y="484.6" font-size="20.5" text-anchor="middle">covered by</text>
<text x="282" y="519.2" font-size="20.4" text-anchor="middle">RCF stack</text></g>
</svg>
</body></html>
